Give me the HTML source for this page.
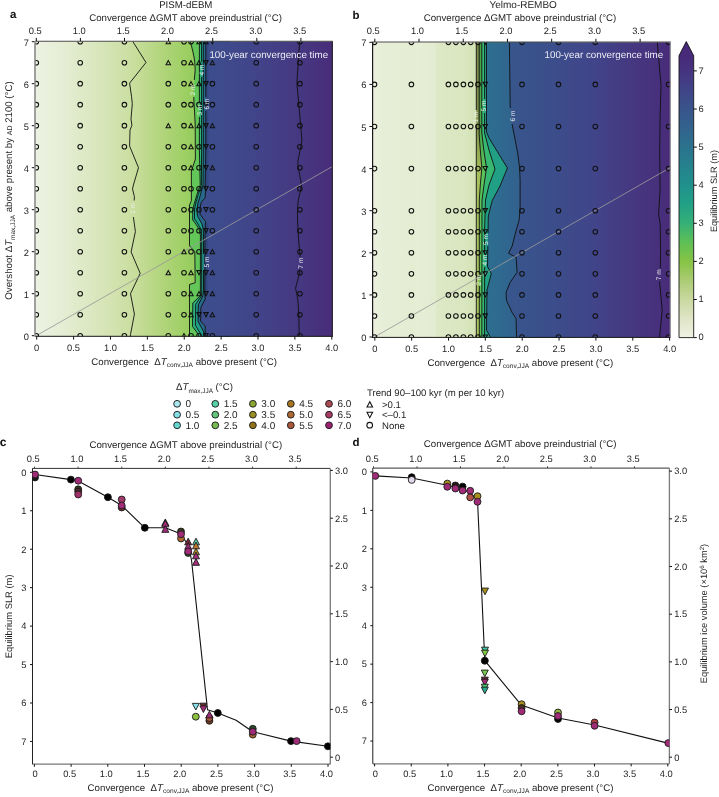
<!DOCTYPE html>
<html><head><meta charset="utf-8"><style>
html,body{margin:0;padding:0;background:#fff;}
svg{display:block;will-change:transform;}
text{font-family:"Liberation Sans", sans-serif;text-rendering:geometricPrecision;}
</style></head><body>
<svg width="719" height="797" viewBox="0 0 719 797">
<defs><linearGradient id="ga_light" gradientUnits="userSpaceOnUse" x1="35" y1="0" x2="200" y2="0">
<stop offset="0" stop-color="#edf2e3"/><stop offset="0.15" stop-color="#e6eed6"/><stop offset="0.33" stop-color="#dce8c2"/>
<stop offset="0.55" stop-color="#cde0a6"/><stop offset="0.62" stop-color="#c6dd99"/><stop offset="0.78" stop-color="#b0d47a"/>
<stop offset="0.92" stop-color="#9ccf62"/><stop offset="1" stop-color="#8fca58"/></linearGradient><linearGradient id="ga_dark" gradientUnits="userSpaceOnUse" x1="195" y1="0" x2="332.5" y2="0">
<stop offset="0" stop-color="#3c4e8d"/><stop offset="0.15" stop-color="#3d4c8c"/><stop offset="0.5" stop-color="#424288"/>
<stop offset="0.8" stop-color="#463680"/><stop offset="1" stop-color="#482c7a"/></linearGradient><linearGradient id="gb_light" gradientUnits="userSpaceOnUse" x1="372.6" y1="0" x2="477" y2="0">
<stop offset="0" stop-color="#ecf1df"/><stop offset="0.1" stop-color="#e7eed7"/><stop offset="0.4" stop-color="#e4edd2"/><stop offset="0.42" stop-color="#e6eed6"/><stop offset="0.6" stop-color="#e3ecd0"/><stop offset="0.62" stop-color="#dde8c6"/><stop offset="0.88" stop-color="#d9e6bf"/>
<stop offset="1" stop-color="#d3e2b4"/></linearGradient><linearGradient id="gb_12" gradientUnits="userSpaceOnUse" x1="0" y1="42" x2="0" y2="337">
<stop offset="0" stop-color="#7a8c46"/><stop offset="0.28" stop-color="#7e9048"/><stop offset="0.45" stop-color="#a6c05c"/><stop offset="1" stop-color="#a8c260"/></linearGradient><linearGradient id="gb_23" gradientUnits="userSpaceOnUse" x1="0" y1="42" x2="0" y2="337">
<stop offset="0" stop-color="#4aa448"/><stop offset="0.28" stop-color="#4aa84a"/><stop offset="0.45" stop-color="#5cc45a"/><stop offset="1" stop-color="#56c25c"/></linearGradient><linearGradient id="gb_56" gradientUnits="userSpaceOnUse" x1="486" y1="0" x2="522" y2="0">
<stop offset="0" stop-color="#2c6f90"/><stop offset="1" stop-color="#33608e"/></linearGradient><linearGradient id="gb_dark" gradientUnits="userSpaceOnUse" x1="505" y1="0" x2="670.6" y2="0">
<stop offset="0" stop-color="#37578c"/><stop offset="0.3" stop-color="#3c4d8b"/><stop offset="0.55" stop-color="#414489"/>
<stop offset="0.8" stop-color="#46367f"/><stop offset="0.93" stop-color="#47307c"/><stop offset="1" stop-color="#482a78"/></linearGradient><linearGradient id="gcb" gradientUnits="userSpaceOnUse" x1="0" y1="337.6" x2="0" y2="55.7"><stop offset="0.0000" stop-color="#eef1e2"/><stop offset="0.0676" stop-color="#dfe5c6"/><stop offset="0.1352" stop-color="#c9d8a0"/><stop offset="0.2027" stop-color="#abcb74"/><stop offset="0.2703" stop-color="#86c445"/><stop offset="0.3379" stop-color="#5ebf55"/><stop offset="0.4055" stop-color="#35b077"/><stop offset="0.4730" stop-color="#22a186"/><stop offset="0.5406" stop-color="#20918c"/><stop offset="0.6082" stop-color="#25828e"/><stop offset="0.6758" stop-color="#2b728e"/><stop offset="0.7433" stop-color="#32638d"/><stop offset="0.8109" stop-color="#39548c"/><stop offset="0.8785" stop-color="#404488"/><stop offset="0.9461" stop-color="#46337f"/><stop offset="1" stop-color="#482a7b"/></linearGradient><clipPath id="cpa"><rect x="35.0" y="41.6" width="297.5" height="294.79999999999995"/></clipPath><clipPath id="cpb"><rect x="372.6" y="42.3" width="298.0" height="295.09999999999997"/></clipPath></defs>
<g clip-path="url(#cpa)">
<rect x="30" y="30" width="310" height="320" fill="url(#ga_light)"/>
<polygon points="190.3,30 190.3,41.5 192.5,50 194,57 194.8,62.6 195.2,70.1 194.4,79.2 193.6,90 193.8,99 195.2,124 195.4,159 191.4,171 191.4,185 191.4,200.7 189.5,205 189.5,245.8 194.8,251.8 195.2,282.7 189.5,284.5 189.5,345 230,345 230,30" fill="#62c658"/>
<polygon points="199.4,30 199.4,150 200.2,185 197,194.4 194.2,203.8 192.7,210 192.7,220 195.8,224 199,229 200.4,235 200.4,290 200.3,295.8 192.8,303 192.5,326.5 198.3,334.3 199,345 230,345 230,30" fill="#2ab47c"/>
<polygon points="201.6,30 201.6,150 201.4,185 198.3,194.4 195.5,203.8 194.5,210 194.5,218.9 198,224 200.8,229 201.7,235 201.7,290 201.6,295.8 195.7,304.3 195.4,325.2 200.9,334.3 201.5,345 230,345 230,30" fill="#1f9c8a"/>
<polygon points="203.3,30 203.3,150 203,185 200.2,195.7 197.7,203.8 197,211.3 197.7,216.4 202,224 203.2,229 203.5,235 203.5,290 202.9,295.8 198.3,304.9 198,321.3 203.6,331.7 203.9,345 230,345 230,30" fill="#28688a"/>
<polygon points="205.8,30 205.8,150 205.2,185 205.5,191.3 205.2,197.5 201.1,202.6 199.9,208.8 200.2,214.5 205.5,221.4 205,235 204.8,290 205.2,299 200.9,307.6 200.6,321.3 205.2,325.8 205.2,345 340,345 340,30" fill="url(#ga_dark)"/>
<polyline points="207.2,30 207.2,187" fill="none" stroke="#30487f" stroke-width="2.4" opacity="0.85"/>
<polyline points="206.8,223 206.6,240 206.4,296" fill="none" stroke="#30487f" stroke-width="2.4" opacity="0.85"/>
<polyline points="132.8,30 132.8,41.5 146,62.5 129.6,83.2 131.5,96.3 132.3,103.8 131,118.9 131.9,125.4 130,130.1 129.6,146.1 138.5,167.7 133.4,185 132.5,188.9 134.4,196.7 134.2,200.5" fill="none" stroke="#111" stroke-width="0.9" stroke-linejoin="round"/>
<polyline points="133.4,217 135.4,231.6 131.1,252 140.2,273.3 130.5,293.7 134.4,314.1 130.5,334.5 130,345" fill="none" stroke="#111" stroke-width="0.9" stroke-linejoin="round"/>
<polyline points="299.8,30 299.8,41.5 298.8,52.5 298.2,62.6 296.9,83.3 298.8,104 300.7,125.3 301.9,140 300.8,146.8 297.9,161.3 298.2,167.9 299.7,174.5 301.4,185 300.8,189 298.2,200.8 297.5,210 297.5,220.5 298.2,231 298.6,240 299.2,245.5 299.7,251.8 300.2,257" fill="none" stroke="#111" stroke-width="0.9" stroke-linejoin="round"/>
<polyline points="299.9,269.5 299.7,273.2 298.2,278.4 295.5,288.3 296.8,293.6 298.2,303.4 298.8,314.6 299.2,335 299.2,345" fill="none" stroke="#111" stroke-width="0.9" stroke-linejoin="round"/>
<polyline points="190.3,30 190.3,41.5 192.5,50 194,57 194.8,62.6 195.2,70.1 194.4,79.2 194.34,80" fill="none" stroke="#111" stroke-width="0.9" stroke-linejoin="round"/><polyline points="193.76,97 193.8,99 195.2,124 195.4,159 191.4,171 191.4,185 191.4,200.7 189.5,205 189.5,245.8 194.8,251.8 195.2,282.7 189.5,284.5 189.5,345" fill="none" stroke="#111" stroke-width="0.9" stroke-linejoin="round"/>
<polyline points="199.4,30 199.4,102" fill="none" stroke="#111" stroke-width="0.9" stroke-linejoin="round"/><polyline points="199.4,117 199.4,150 200.2,185 197,194.4 194.2,203.8 192.7,210 192.7,220 195.8,224 199,229 200.4,235 200.4,290 200.3,295.8 192.8,303 192.5,326.5 198.3,334.3 199,345" fill="none" stroke="#111" stroke-width="0.9" stroke-linejoin="round"/>
<polyline points="201.6,30 201.6,62" fill="none" stroke="#111" stroke-width="0.9" stroke-linejoin="round"/><polyline points="201.6,77 201.6,150 201.4,185 198.3,194.4 195.5,203.8 194.5,210 194.5,218.9 198,224 200.8,229 201.7,235 201.7,290 201.6,295.8 195.7,304.3 195.4,325.2 200.9,334.3 201.5,345" fill="none" stroke="#111" stroke-width="0.9" stroke-linejoin="round"/>
<polyline points="203.3,30 203.3,150 203,185 200.2,195.7 197.7,203.8 197,211.3 197.7,216.4 202,224 203.2,229 203.5,235 203.5,254" fill="none" stroke="#111" stroke-width="0.9" stroke-linejoin="round"/><polyline points="203.5,270 203.5,290 202.9,295.8 198.3,304.9 198,321.3 203.6,331.7 203.9,345" fill="none" stroke="#111" stroke-width="0.9" stroke-linejoin="round"/>
<polyline points="205.8,30 205.8,97" fill="none" stroke="#111" stroke-width="0.9" stroke-linejoin="round"/><polyline points="205.8,111 205.8,150 205.2,185 205.5,191.3 205.2,197.5 201.1,202.6 199.9,208.8 200.2,214.5 205.5,221.4 205,235 204.8,290 205.2,299 200.9,307.6 200.6,321.3 205.2,325.8 205.2,345" fill="none" stroke="#111" stroke-width="0.9" stroke-linejoin="round"/>
<line x1="36.3" y1="335.7" x2="345.0" y2="159.29999999999998" stroke="#999" stroke-width="0.85"/>
</g>
<g clip-path="url(#cpb)">
<rect x="365" y="30" width="310" height="320" fill="url(#gb_light)"/>
<polygon points="476.3,30 476.3,345 560,345 560,30" fill="url(#gb_12)"/>
<polygon points="479.2,30 479.2,135 480.3,150 481.8,168 480.3,185 479.3,200 479.3,345 560,345 560,30" fill="url(#gb_23)"/>
<polygon points="481.8,30 481.8,133 483.8,150 486.5,168 484,185 482,200 481.8,345 560,345 560,30" fill="#38b972"/>
<polygon points="484.6,30 484.6,133 489,150 495,169 489,185 485.5,200 484.6,230 484.6,345 560,345 560,30" fill="#21a086"/>
<polygon points="486.5,30 486.5,132 489,138 507.4,168 500,186 492.2,200.6 488.3,216 487.5,266.7 491.3,273.5 487,290 486.5,330 490.3,337 490.3,345 560,345 560,30" fill="url(#gb_56)"/>
<polygon points="509.4,30 509.4,42 510.2,106 512.2,124.7 517.7,153 519.6,168 520.1,180 520.1,208.1 519.1,220.2 515.1,234.2 512.1,246.3 508.5,253.3 516.1,257.3 517.1,272.4 510.1,282.4 506.1,292.4 506.5,300.5 512.1,312.5 516.1,318.6 516.5,336.6 516.5,345 680,345 680,30" fill="url(#gb_dark)"/>
<polyline points="476.3,30 476.3,110" fill="none" stroke="#111" stroke-width="0.9" stroke-linejoin="round"/><polyline points="476.3,124 476.3,345" fill="none" stroke="#111" stroke-width="0.9" stroke-linejoin="round"/>
<polyline points="479.2,30 479.2,135 480.3,150 481.8,168 480.3,185 479.3,200 479.3,274" fill="none" stroke="#111" stroke-width="0.9" stroke-linejoin="round"/><polyline points="479.3,286 479.3,345" fill="none" stroke="#111" stroke-width="0.9" stroke-linejoin="round"/>
<polyline points="481.8,30 481.8,133 483.8,150 486.5,168 484,185 482,200 481.8,345" fill="none" stroke="#111" stroke-width="0.9" stroke-linejoin="round"/>
<polyline points="484.6,30 484.6,99" fill="none" stroke="#111" stroke-width="0.9" stroke-linejoin="round"/><polyline points="484.6,113 484.6,133 489,150 495,169 489,185 485.5,200 484.6,230 484.6,253" fill="none" stroke="#111" stroke-width="0.9" stroke-linejoin="round"/><polyline points="484.6,267 484.6,345" fill="none" stroke="#111" stroke-width="0.9" stroke-linejoin="round"/>
<polyline points="486.5,30 486.5,132 489,138 507.4,168 500,186 492.2,200.6 488.3,216 488.03,233" fill="none" stroke="#111" stroke-width="0.9" stroke-linejoin="round"/><polyline points="487.83,246 487.5,266.7 491.3,273.5 487,290 486.5,330 490.3,337 490.3,345" fill="none" stroke="#111" stroke-width="0.9" stroke-linejoin="round"/>
<polyline points="509.4,30 509.4,42 510.2,106 510.41,108" fill="none" stroke="#111" stroke-width="0.9" stroke-linejoin="round"/><polyline points="512.13,124 512.2,124.7 517.7,153 519.6,168 520.1,180 520.1,208.1 519.1,220.2 515.1,234.2 512.1,246.3 508.5,253.3 516.1,257.3 517.1,272.4 510.1,282.4 506.1,292.4 506.5,300.5 512.1,312.5 516.1,318.6 516.5,336.6 516.5,345" fill="none" stroke="#111" stroke-width="0.9" stroke-linejoin="round"/>
<polyline points="657.3,30 657.3,42 661,85.3 660.1,115.5 659.7,153 660.1,190 658.6,214.2 660.2,224 660.6,253.2 660.3,268.5" fill="none" stroke="#111" stroke-width="0.9" stroke-linejoin="round"/><polyline points="659.8,281 659.6,282.5 662.2,309.8 659.6,337 659.6,345" fill="none" stroke="#111" stroke-width="0.9" stroke-linejoin="round"/>
<line x1="374.5" y1="337.0" x2="683.2" y2="160.17999999999998" stroke="#999" stroke-width="0.85"/>
</g>
<g clip-path="url(#cpa)">
<circle cx="36.3" cy="41.7" r="2.3" fill="none" stroke="#111" stroke-width="1.05"/>
<circle cx="80.2" cy="41.7" r="2.3" fill="none" stroke="#111" stroke-width="1.05"/>
<circle cx="124.4" cy="41.7" r="2.3" fill="none" stroke="#111" stroke-width="1.05"/>
<polygon points="168.3,39.61 166.1,43.79 170.5,43.79" fill="none" stroke="#111" stroke-width="1.05" stroke-linejoin="miter"/>
<circle cx="184" cy="41.7" r="2.3" fill="none" stroke="#111" stroke-width="1.05"/>
<circle cx="191" cy="41.7" r="2.3" fill="none" stroke="#111" stroke-width="1.05"/>
<polygon points="199,39.61 196.8,43.79 201.2,43.79" fill="none" stroke="#111" stroke-width="1.05" stroke-linejoin="miter"/>
<polygon points="206,39.61 203.8,43.79 208.2,43.79" fill="none" stroke="#111" stroke-width="1.05" stroke-linejoin="miter"/>
<polygon points="212.4,43.79 210.2,39.61 214.6,39.61" fill="none" stroke="#111" stroke-width="1.05" stroke-linejoin="miter"/>
<circle cx="256.2" cy="41.7" r="2.3" fill="none" stroke="#111" stroke-width="1.05"/>
<circle cx="299.9" cy="41.7" r="2.3" fill="none" stroke="#111" stroke-width="1.05"/>
<circle cx="36.3" cy="62.7" r="2.3" fill="none" stroke="#111" stroke-width="1.05"/>
<circle cx="80.2" cy="62.7" r="2.3" fill="none" stroke="#111" stroke-width="1.05"/>
<circle cx="124.4" cy="62.7" r="2.3" fill="none" stroke="#111" stroke-width="1.05"/>
<polygon points="168.3,60.61 166.1,64.79 170.5,64.79" fill="none" stroke="#111" stroke-width="1.05" stroke-linejoin="miter"/>
<circle cx="184" cy="62.7" r="2.3" fill="none" stroke="#111" stroke-width="1.05"/>
<polygon points="191,60.61 188.8,64.79 193.2,64.79" fill="none" stroke="#111" stroke-width="1.05" stroke-linejoin="miter"/>
<polygon points="199,60.61 196.8,64.79 201.2,64.79" fill="none" stroke="#111" stroke-width="1.05" stroke-linejoin="miter"/>
<polygon points="206,64.79 203.8,60.61 208.2,60.61" fill="none" stroke="#111" stroke-width="1.05" stroke-linejoin="miter"/>
<polygon points="212.4,60.61 210.2,64.79 214.6,64.79" fill="none" stroke="#111" stroke-width="1.05" stroke-linejoin="miter"/>
<circle cx="256.2" cy="62.7" r="2.3" fill="none" stroke="#111" stroke-width="1.05"/>
<circle cx="299.9" cy="62.7" r="2.3" fill="none" stroke="#111" stroke-width="1.05"/>
<circle cx="36.3" cy="83.7" r="2.3" fill="none" stroke="#111" stroke-width="1.05"/>
<circle cx="80.2" cy="83.7" r="2.3" fill="none" stroke="#111" stroke-width="1.05"/>
<circle cx="124.4" cy="83.7" r="2.3" fill="none" stroke="#111" stroke-width="1.05"/>
<circle cx="168.3" cy="83.7" r="2.3" fill="none" stroke="#111" stroke-width="1.05"/>
<circle cx="184" cy="83.7" r="2.3" fill="none" stroke="#111" stroke-width="1.05"/>
<polygon points="191,81.61 188.8,85.79 193.2,85.79" fill="none" stroke="#111" stroke-width="1.05" stroke-linejoin="miter"/>
<polygon points="199,81.61 196.8,85.79 201.2,85.79" fill="none" stroke="#111" stroke-width="1.05" stroke-linejoin="miter"/>
<polygon points="206,85.79 203.8,81.61 208.2,81.61" fill="none" stroke="#111" stroke-width="1.05" stroke-linejoin="miter"/>
<circle cx="212.4" cy="83.7" r="2.3" fill="none" stroke="#111" stroke-width="1.05"/>
<circle cx="256.2" cy="83.7" r="2.3" fill="none" stroke="#111" stroke-width="1.05"/>
<circle cx="299.9" cy="83.7" r="2.3" fill="none" stroke="#111" stroke-width="1.05"/>
<circle cx="36.3" cy="104.7" r="2.3" fill="none" stroke="#111" stroke-width="1.05"/>
<circle cx="80.2" cy="104.7" r="2.3" fill="none" stroke="#111" stroke-width="1.05"/>
<circle cx="124.4" cy="104.7" r="2.3" fill="none" stroke="#111" stroke-width="1.05"/>
<circle cx="168.3" cy="104.7" r="2.3" fill="none" stroke="#111" stroke-width="1.05"/>
<circle cx="184" cy="104.7" r="2.3" fill="none" stroke="#111" stroke-width="1.05"/>
<circle cx="191" cy="104.7" r="2.3" fill="none" stroke="#111" stroke-width="1.05"/>
<circle cx="199" cy="104.7" r="2.3" fill="none" stroke="#111" stroke-width="1.05"/>
<polygon points="206,106.79 203.8,102.61 208.2,102.61" fill="none" stroke="#111" stroke-width="1.05" stroke-linejoin="miter"/>
<circle cx="212.4" cy="104.7" r="2.3" fill="none" stroke="#111" stroke-width="1.05"/>
<circle cx="256.2" cy="104.7" r="2.3" fill="none" stroke="#111" stroke-width="1.05"/>
<circle cx="299.9" cy="104.7" r="2.3" fill="none" stroke="#111" stroke-width="1.05"/>
<circle cx="36.3" cy="125.7" r="2.3" fill="none" stroke="#111" stroke-width="1.05"/>
<circle cx="80.2" cy="125.7" r="2.3" fill="none" stroke="#111" stroke-width="1.05"/>
<circle cx="124.4" cy="125.7" r="2.3" fill="none" stroke="#111" stroke-width="1.05"/>
<polygon points="168.3,123.61 166.1,127.79 170.5,127.79" fill="none" stroke="#111" stroke-width="1.05" stroke-linejoin="miter"/>
<circle cx="184" cy="125.7" r="2.3" fill="none" stroke="#111" stroke-width="1.05"/>
<polygon points="191,123.61 188.8,127.79 193.2,127.79" fill="none" stroke="#111" stroke-width="1.05" stroke-linejoin="miter"/>
<polygon points="199,123.61 196.8,127.79 201.2,127.79" fill="none" stroke="#111" stroke-width="1.05" stroke-linejoin="miter"/>
<polygon points="206,127.79 203.8,123.61 208.2,123.61" fill="none" stroke="#111" stroke-width="1.05" stroke-linejoin="miter"/>
<polygon points="212.4,123.61 210.2,127.79 214.6,127.79" fill="none" stroke="#111" stroke-width="1.05" stroke-linejoin="miter"/>
<circle cx="256.2" cy="125.7" r="2.3" fill="none" stroke="#111" stroke-width="1.05"/>
<circle cx="299.9" cy="125.7" r="2.3" fill="none" stroke="#111" stroke-width="1.05"/>
<circle cx="36.3" cy="146.7" r="2.3" fill="none" stroke="#111" stroke-width="1.05"/>
<circle cx="80.2" cy="146.7" r="2.3" fill="none" stroke="#111" stroke-width="1.05"/>
<circle cx="124.4" cy="146.7" r="2.3" fill="none" stroke="#111" stroke-width="1.05"/>
<circle cx="168.3" cy="146.7" r="2.3" fill="none" stroke="#111" stroke-width="1.05"/>
<circle cx="184" cy="146.7" r="2.3" fill="none" stroke="#111" stroke-width="1.05"/>
<polygon points="191,144.61 188.8,148.79 193.2,148.79" fill="none" stroke="#111" stroke-width="1.05" stroke-linejoin="miter"/>
<circle cx="199" cy="146.7" r="2.3" fill="none" stroke="#111" stroke-width="1.05"/>
<polygon points="206,148.79 203.8,144.61 208.2,144.61" fill="none" stroke="#111" stroke-width="1.05" stroke-linejoin="miter"/>
<circle cx="212.4" cy="146.7" r="2.3" fill="none" stroke="#111" stroke-width="1.05"/>
<circle cx="256.2" cy="146.7" r="2.3" fill="none" stroke="#111" stroke-width="1.05"/>
<circle cx="299.9" cy="146.7" r="2.3" fill="none" stroke="#111" stroke-width="1.05"/>
<circle cx="36.3" cy="167.7" r="2.3" fill="none" stroke="#111" stroke-width="1.05"/>
<circle cx="80.2" cy="167.7" r="2.3" fill="none" stroke="#111" stroke-width="1.05"/>
<circle cx="124.4" cy="167.7" r="2.3" fill="none" stroke="#111" stroke-width="1.05"/>
<circle cx="168.3" cy="167.7" r="2.3" fill="none" stroke="#111" stroke-width="1.05"/>
<circle cx="184" cy="167.7" r="2.3" fill="none" stroke="#111" stroke-width="1.05"/>
<polygon points="191,165.61 188.8,169.79 193.2,169.79" fill="none" stroke="#111" stroke-width="1.05" stroke-linejoin="miter"/>
<circle cx="199" cy="167.7" r="2.3" fill="none" stroke="#111" stroke-width="1.05"/>
<polygon points="206,169.79 203.8,165.61 208.2,165.61" fill="none" stroke="#111" stroke-width="1.05" stroke-linejoin="miter"/>
<polygon points="212.4,165.61 210.2,169.79 214.6,169.79" fill="none" stroke="#111" stroke-width="1.05" stroke-linejoin="miter"/>
<circle cx="256.2" cy="167.7" r="2.3" fill="none" stroke="#111" stroke-width="1.05"/>
<circle cx="299.9" cy="167.7" r="2.3" fill="none" stroke="#111" stroke-width="1.05"/>
<circle cx="36.3" cy="188.7" r="2.3" fill="none" stroke="#111" stroke-width="1.05"/>
<circle cx="80.2" cy="188.7" r="2.3" fill="none" stroke="#111" stroke-width="1.05"/>
<circle cx="124.4" cy="188.7" r="2.3" fill="none" stroke="#111" stroke-width="1.05"/>
<circle cx="168.3" cy="188.7" r="2.3" fill="none" stroke="#111" stroke-width="1.05"/>
<circle cx="184" cy="188.7" r="2.3" fill="none" stroke="#111" stroke-width="1.05"/>
<circle cx="191" cy="188.7" r="2.3" fill="none" stroke="#111" stroke-width="1.05"/>
<circle cx="199" cy="188.7" r="2.3" fill="none" stroke="#111" stroke-width="1.05"/>
<polygon points="206,190.79 203.8,186.61 208.2,186.61" fill="none" stroke="#111" stroke-width="1.05" stroke-linejoin="miter"/>
<circle cx="212.4" cy="188.7" r="2.3" fill="none" stroke="#111" stroke-width="1.05"/>
<circle cx="256.2" cy="188.7" r="2.3" fill="none" stroke="#111" stroke-width="1.05"/>
<circle cx="299.9" cy="188.7" r="2.3" fill="none" stroke="#111" stroke-width="1.05"/>
<circle cx="36.3" cy="209.7" r="2.3" fill="none" stroke="#111" stroke-width="1.05"/>
<circle cx="80.2" cy="209.7" r="2.3" fill="none" stroke="#111" stroke-width="1.05"/>
<circle cx="124.4" cy="209.7" r="2.3" fill="none" stroke="#111" stroke-width="1.05"/>
<circle cx="168.3" cy="209.7" r="2.3" fill="none" stroke="#111" stroke-width="1.05"/>
<circle cx="184" cy="209.7" r="2.3" fill="none" stroke="#111" stroke-width="1.05"/>
<circle cx="191" cy="209.7" r="2.3" fill="none" stroke="#111" stroke-width="1.05"/>
<circle cx="199" cy="209.7" r="2.3" fill="none" stroke="#111" stroke-width="1.05"/>
<polygon points="206,211.79 203.8,207.61 208.2,207.61" fill="none" stroke="#111" stroke-width="1.05" stroke-linejoin="miter"/>
<circle cx="212.4" cy="209.7" r="2.3" fill="none" stroke="#111" stroke-width="1.05"/>
<circle cx="256.2" cy="209.7" r="2.3" fill="none" stroke="#111" stroke-width="1.05"/>
<circle cx="299.9" cy="209.7" r="2.3" fill="none" stroke="#111" stroke-width="1.05"/>
<circle cx="36.3" cy="230.7" r="2.3" fill="none" stroke="#111" stroke-width="1.05"/>
<circle cx="80.2" cy="230.7" r="2.3" fill="none" stroke="#111" stroke-width="1.05"/>
<circle cx="124.4" cy="230.7" r="2.3" fill="none" stroke="#111" stroke-width="1.05"/>
<circle cx="168.3" cy="230.7" r="2.3" fill="none" stroke="#111" stroke-width="1.05"/>
<circle cx="184" cy="230.7" r="2.3" fill="none" stroke="#111" stroke-width="1.05"/>
<circle cx="191" cy="230.7" r="2.3" fill="none" stroke="#111" stroke-width="1.05"/>
<circle cx="199" cy="230.7" r="2.3" fill="none" stroke="#111" stroke-width="1.05"/>
<polygon points="206,232.79 203.8,228.61 208.2,228.61" fill="none" stroke="#111" stroke-width="1.05" stroke-linejoin="miter"/>
<circle cx="212.4" cy="230.7" r="2.3" fill="none" stroke="#111" stroke-width="1.05"/>
<circle cx="256.2" cy="230.7" r="2.3" fill="none" stroke="#111" stroke-width="1.05"/>
<circle cx="299.9" cy="230.7" r="2.3" fill="none" stroke="#111" stroke-width="1.05"/>
<circle cx="36.3" cy="251.7" r="2.3" fill="none" stroke="#111" stroke-width="1.05"/>
<circle cx="80.2" cy="251.7" r="2.3" fill="none" stroke="#111" stroke-width="1.05"/>
<circle cx="124.4" cy="251.7" r="2.3" fill="none" stroke="#111" stroke-width="1.05"/>
<circle cx="168.3" cy="251.7" r="2.3" fill="none" stroke="#111" stroke-width="1.05"/>
<polygon points="184,249.61 181.8,253.79 186.2,253.79" fill="none" stroke="#111" stroke-width="1.05" stroke-linejoin="miter"/>
<circle cx="191" cy="251.7" r="2.3" fill="none" stroke="#111" stroke-width="1.05"/>
<circle cx="199" cy="251.7" r="2.3" fill="none" stroke="#111" stroke-width="1.05"/>
<polygon points="206,253.79 203.8,249.61 208.2,249.61" fill="none" stroke="#111" stroke-width="1.05" stroke-linejoin="miter"/>
<polygon points="212.4,249.61 210.2,253.79 214.6,253.79" fill="none" stroke="#111" stroke-width="1.05" stroke-linejoin="miter"/>
<circle cx="256.2" cy="251.7" r="2.3" fill="none" stroke="#111" stroke-width="1.05"/>
<circle cx="299.9" cy="251.7" r="2.3" fill="none" stroke="#111" stroke-width="1.05"/>
<circle cx="36.3" cy="272.7" r="2.3" fill="none" stroke="#111" stroke-width="1.05"/>
<circle cx="80.2" cy="272.7" r="2.3" fill="none" stroke="#111" stroke-width="1.05"/>
<circle cx="124.4" cy="272.7" r="2.3" fill="none" stroke="#111" stroke-width="1.05"/>
<polygon points="168.3,270.61 166.1,274.79 170.5,274.79" fill="none" stroke="#111" stroke-width="1.05" stroke-linejoin="miter"/>
<circle cx="184" cy="272.7" r="2.3" fill="none" stroke="#111" stroke-width="1.05"/>
<polygon points="191,270.61 188.8,274.79 193.2,274.79" fill="none" stroke="#111" stroke-width="1.05" stroke-linejoin="miter"/>
<polygon points="199,274.79 196.8,270.61 201.2,270.61" fill="none" stroke="#111" stroke-width="1.05" stroke-linejoin="miter"/>
<polygon points="206,274.79 203.8,270.61 208.2,270.61" fill="none" stroke="#111" stroke-width="1.05" stroke-linejoin="miter"/>
<polygon points="212.4,270.61 210.2,274.79 214.6,274.79" fill="none" stroke="#111" stroke-width="1.05" stroke-linejoin="miter"/>
<circle cx="256.2" cy="272.7" r="2.3" fill="none" stroke="#111" stroke-width="1.05"/>
<circle cx="299.9" cy="272.7" r="2.3" fill="none" stroke="#111" stroke-width="1.05"/>
<circle cx="36.3" cy="293.7" r="2.3" fill="none" stroke="#111" stroke-width="1.05"/>
<circle cx="80.2" cy="293.7" r="2.3" fill="none" stroke="#111" stroke-width="1.05"/>
<circle cx="124.4" cy="293.7" r="2.3" fill="none" stroke="#111" stroke-width="1.05"/>
<circle cx="168.3" cy="293.7" r="2.3" fill="none" stroke="#111" stroke-width="1.05"/>
<circle cx="184" cy="293.7" r="2.3" fill="none" stroke="#111" stroke-width="1.05"/>
<polygon points="191,291.61 188.8,295.79 193.2,295.79" fill="none" stroke="#111" stroke-width="1.05" stroke-linejoin="miter"/>
<polygon points="199,291.61 196.8,295.79 201.2,295.79" fill="none" stroke="#111" stroke-width="1.05" stroke-linejoin="miter"/>
<polygon points="206,295.79 203.8,291.61 208.2,291.61" fill="none" stroke="#111" stroke-width="1.05" stroke-linejoin="miter"/>
<polygon points="212.4,291.61 210.2,295.79 214.6,295.79" fill="none" stroke="#111" stroke-width="1.05" stroke-linejoin="miter"/>
<circle cx="256.2" cy="293.7" r="2.3" fill="none" stroke="#111" stroke-width="1.05"/>
<circle cx="299.9" cy="293.7" r="2.3" fill="none" stroke="#111" stroke-width="1.05"/>
<circle cx="36.3" cy="314.7" r="2.3" fill="none" stroke="#111" stroke-width="1.05"/>
<circle cx="80.2" cy="314.7" r="2.3" fill="none" stroke="#111" stroke-width="1.05"/>
<circle cx="124.4" cy="314.7" r="2.3" fill="none" stroke="#111" stroke-width="1.05"/>
<circle cx="168.3" cy="314.7" r="2.3" fill="none" stroke="#111" stroke-width="1.05"/>
<circle cx="184" cy="314.7" r="2.3" fill="none" stroke="#111" stroke-width="1.05"/>
<polygon points="191,312.61 188.8,316.79 193.2,316.79" fill="none" stroke="#111" stroke-width="1.05" stroke-linejoin="miter"/>
<polygon points="199,316.79 196.8,312.61 201.2,312.61" fill="none" stroke="#111" stroke-width="1.05" stroke-linejoin="miter"/>
<polygon points="206,316.79 203.8,312.61 208.2,312.61" fill="none" stroke="#111" stroke-width="1.05" stroke-linejoin="miter"/>
<polygon points="212.4,312.61 210.2,316.79 214.6,316.79" fill="none" stroke="#111" stroke-width="1.05" stroke-linejoin="miter"/>
<circle cx="256.2" cy="314.7" r="2.3" fill="none" stroke="#111" stroke-width="1.05"/>
<circle cx="299.9" cy="314.7" r="2.3" fill="none" stroke="#111" stroke-width="1.05"/>
<circle cx="36.3" cy="335.7" r="2.3" fill="none" stroke="#111" stroke-width="1.05"/>
<circle cx="80.2" cy="335.7" r="2.3" fill="none" stroke="#111" stroke-width="1.05"/>
<circle cx="124.4" cy="335.7" r="2.3" fill="none" stroke="#111" stroke-width="1.05"/>
<circle cx="168.3" cy="335.7" r="2.3" fill="none" stroke="#111" stroke-width="1.05"/>
<polygon points="184,333.61 181.8,337.79 186.2,337.79" fill="none" stroke="#111" stroke-width="1.05" stroke-linejoin="miter"/>
<circle cx="191" cy="335.7" r="2.3" fill="none" stroke="#111" stroke-width="1.05"/>
<circle cx="199" cy="335.7" r="2.3" fill="none" stroke="#111" stroke-width="1.05"/>
<polygon points="206,337.79 203.8,333.61 208.2,333.61" fill="none" stroke="#111" stroke-width="1.05" stroke-linejoin="miter"/>
<circle cx="212.4" cy="335.7" r="2.3" fill="none" stroke="#111" stroke-width="1.05"/>
<circle cx="256.2" cy="335.7" r="2.3" fill="none" stroke="#111" stroke-width="1.05"/>
<circle cx="299.9" cy="335.7" r="2.3" fill="none" stroke="#111" stroke-width="1.05"/>
</g>
<g clip-path="url(#cpb)">
<circle cx="374.5" cy="42.3" r="2.3" fill="none" stroke="#111" stroke-width="1.05"/>
<circle cx="411.4" cy="42.3" r="2.3" fill="none" stroke="#111" stroke-width="1.05"/>
<circle cx="448.4" cy="42.3" r="2.3" fill="none" stroke="#111" stroke-width="1.05"/>
<circle cx="455.9" cy="42.3" r="2.3" fill="none" stroke="#111" stroke-width="1.05"/>
<circle cx="463.4" cy="42.3" r="2.3" fill="none" stroke="#111" stroke-width="1.05"/>
<circle cx="470.7" cy="42.3" r="2.3" fill="none" stroke="#111" stroke-width="1.05"/>
<circle cx="478" cy="42.3" r="2.3" fill="none" stroke="#111" stroke-width="1.05"/>
<polygon points="485.3,44.39 483.1,40.21 487.5,40.21" fill="none" stroke="#111" stroke-width="1.05" stroke-linejoin="miter"/>
<circle cx="522" cy="42.3" r="2.3" fill="none" stroke="#111" stroke-width="1.05"/>
<circle cx="558.5" cy="42.3" r="2.3" fill="none" stroke="#111" stroke-width="1.05"/>
<circle cx="595.3" cy="42.3" r="2.3" fill="none" stroke="#111" stroke-width="1.05"/>
<circle cx="668.6" cy="42.3" r="2.3" fill="none" stroke="#111" stroke-width="1.05"/>
<circle cx="374.5" cy="84.4" r="2.3" fill="none" stroke="#111" stroke-width="1.05"/>
<circle cx="411.4" cy="84.4" r="2.3" fill="none" stroke="#111" stroke-width="1.05"/>
<circle cx="448.4" cy="84.4" r="2.3" fill="none" stroke="#111" stroke-width="1.05"/>
<circle cx="455.9" cy="84.4" r="2.3" fill="none" stroke="#111" stroke-width="1.05"/>
<circle cx="463.4" cy="84.4" r="2.3" fill="none" stroke="#111" stroke-width="1.05"/>
<circle cx="470.7" cy="84.4" r="2.3" fill="none" stroke="#111" stroke-width="1.05"/>
<circle cx="478" cy="84.4" r="2.3" fill="none" stroke="#111" stroke-width="1.05"/>
<polygon points="485.3,86.49 483.1,82.31 487.5,82.31" fill="none" stroke="#111" stroke-width="1.05" stroke-linejoin="miter"/>
<circle cx="522" cy="84.4" r="2.3" fill="none" stroke="#111" stroke-width="1.05"/>
<circle cx="558.5" cy="84.4" r="2.3" fill="none" stroke="#111" stroke-width="1.05"/>
<circle cx="595.3" cy="84.4" r="2.3" fill="none" stroke="#111" stroke-width="1.05"/>
<circle cx="668.6" cy="84.4" r="2.3" fill="none" stroke="#111" stroke-width="1.05"/>
<circle cx="374.5" cy="126.5" r="2.3" fill="none" stroke="#111" stroke-width="1.05"/>
<circle cx="411.4" cy="126.5" r="2.3" fill="none" stroke="#111" stroke-width="1.05"/>
<circle cx="448.4" cy="126.5" r="2.3" fill="none" stroke="#111" stroke-width="1.05"/>
<circle cx="455.9" cy="126.5" r="2.3" fill="none" stroke="#111" stroke-width="1.05"/>
<circle cx="463.4" cy="126.5" r="2.3" fill="none" stroke="#111" stroke-width="1.05"/>
<circle cx="470.7" cy="126.5" r="2.3" fill="none" stroke="#111" stroke-width="1.05"/>
<circle cx="478" cy="126.5" r="2.3" fill="none" stroke="#111" stroke-width="1.05"/>
<polygon points="485.3,128.59 483.1,124.41 487.5,124.41" fill="none" stroke="#111" stroke-width="1.05" stroke-linejoin="miter"/>
<circle cx="522" cy="126.5" r="2.3" fill="none" stroke="#111" stroke-width="1.05"/>
<circle cx="558.5" cy="126.5" r="2.3" fill="none" stroke="#111" stroke-width="1.05"/>
<circle cx="595.3" cy="126.5" r="2.3" fill="none" stroke="#111" stroke-width="1.05"/>
<circle cx="668.6" cy="126.5" r="2.3" fill="none" stroke="#111" stroke-width="1.05"/>
<circle cx="374.5" cy="168.6" r="2.3" fill="none" stroke="#111" stroke-width="1.05"/>
<circle cx="411.4" cy="168.6" r="2.3" fill="none" stroke="#111" stroke-width="1.05"/>
<circle cx="448.4" cy="168.6" r="2.3" fill="none" stroke="#111" stroke-width="1.05"/>
<circle cx="455.9" cy="168.6" r="2.3" fill="none" stroke="#111" stroke-width="1.05"/>
<circle cx="463.4" cy="168.6" r="2.3" fill="none" stroke="#111" stroke-width="1.05"/>
<circle cx="470.7" cy="168.6" r="2.3" fill="none" stroke="#111" stroke-width="1.05"/>
<circle cx="478" cy="168.6" r="2.3" fill="none" stroke="#111" stroke-width="1.05"/>
<polygon points="485.3,170.69 483.1,166.51 487.5,166.51" fill="none" stroke="#111" stroke-width="1.05" stroke-linejoin="miter"/>
<circle cx="522" cy="168.6" r="2.3" fill="none" stroke="#111" stroke-width="1.05"/>
<circle cx="558.5" cy="168.6" r="2.3" fill="none" stroke="#111" stroke-width="1.05"/>
<circle cx="595.3" cy="168.6" r="2.3" fill="none" stroke="#111" stroke-width="1.05"/>
<circle cx="668.6" cy="168.6" r="2.3" fill="none" stroke="#111" stroke-width="1.05"/>
<circle cx="374.5" cy="210.7" r="2.3" fill="none" stroke="#111" stroke-width="1.05"/>
<circle cx="411.4" cy="210.7" r="2.3" fill="none" stroke="#111" stroke-width="1.05"/>
<circle cx="448.4" cy="210.7" r="2.3" fill="none" stroke="#111" stroke-width="1.05"/>
<circle cx="455.9" cy="210.7" r="2.3" fill="none" stroke="#111" stroke-width="1.05"/>
<circle cx="463.4" cy="210.7" r="2.3" fill="none" stroke="#111" stroke-width="1.05"/>
<circle cx="470.7" cy="210.7" r="2.3" fill="none" stroke="#111" stroke-width="1.05"/>
<circle cx="478" cy="210.7" r="2.3" fill="none" stroke="#111" stroke-width="1.05"/>
<polygon points="485.3,212.79 483.1,208.61 487.5,208.61" fill="none" stroke="#111" stroke-width="1.05" stroke-linejoin="miter"/>
<circle cx="522" cy="210.7" r="2.3" fill="none" stroke="#111" stroke-width="1.05"/>
<circle cx="558.5" cy="210.7" r="2.3" fill="none" stroke="#111" stroke-width="1.05"/>
<circle cx="595.3" cy="210.7" r="2.3" fill="none" stroke="#111" stroke-width="1.05"/>
<circle cx="668.6" cy="210.7" r="2.3" fill="none" stroke="#111" stroke-width="1.05"/>
<circle cx="374.5" cy="231.75" r="2.3" fill="none" stroke="#111" stroke-width="1.05"/>
<circle cx="411.4" cy="231.75" r="2.3" fill="none" stroke="#111" stroke-width="1.05"/>
<circle cx="448.4" cy="231.75" r="2.3" fill="none" stroke="#111" stroke-width="1.05"/>
<circle cx="455.9" cy="231.75" r="2.3" fill="none" stroke="#111" stroke-width="1.05"/>
<circle cx="463.4" cy="231.75" r="2.3" fill="none" stroke="#111" stroke-width="1.05"/>
<circle cx="470.7" cy="231.75" r="2.3" fill="none" stroke="#111" stroke-width="1.05"/>
<circle cx="478" cy="231.75" r="2.3" fill="none" stroke="#111" stroke-width="1.05"/>
<polygon points="485.3,233.84 483.1,229.66 487.5,229.66" fill="none" stroke="#111" stroke-width="1.05" stroke-linejoin="miter"/>
<circle cx="522" cy="231.75" r="2.3" fill="none" stroke="#111" stroke-width="1.05"/>
<circle cx="558.5" cy="231.75" r="2.3" fill="none" stroke="#111" stroke-width="1.05"/>
<circle cx="595.3" cy="231.75" r="2.3" fill="none" stroke="#111" stroke-width="1.05"/>
<circle cx="668.6" cy="231.75" r="2.3" fill="none" stroke="#111" stroke-width="1.05"/>
<circle cx="374.5" cy="252.8" r="2.3" fill="none" stroke="#111" stroke-width="1.05"/>
<circle cx="411.4" cy="252.8" r="2.3" fill="none" stroke="#111" stroke-width="1.05"/>
<circle cx="448.4" cy="252.8" r="2.3" fill="none" stroke="#111" stroke-width="1.05"/>
<circle cx="455.9" cy="252.8" r="2.3" fill="none" stroke="#111" stroke-width="1.05"/>
<circle cx="463.4" cy="252.8" r="2.3" fill="none" stroke="#111" stroke-width="1.05"/>
<circle cx="470.7" cy="252.8" r="2.3" fill="none" stroke="#111" stroke-width="1.05"/>
<circle cx="478" cy="252.8" r="2.3" fill="none" stroke="#111" stroke-width="1.05"/>
<polygon points="485.3,254.89 483.1,250.71 487.5,250.71" fill="none" stroke="#111" stroke-width="1.05" stroke-linejoin="miter"/>
<circle cx="522" cy="252.8" r="2.3" fill="none" stroke="#111" stroke-width="1.05"/>
<circle cx="558.5" cy="252.8" r="2.3" fill="none" stroke="#111" stroke-width="1.05"/>
<circle cx="595.3" cy="252.8" r="2.3" fill="none" stroke="#111" stroke-width="1.05"/>
<circle cx="668.6" cy="252.8" r="2.3" fill="none" stroke="#111" stroke-width="1.05"/>
<circle cx="374.5" cy="273.85" r="2.3" fill="none" stroke="#111" stroke-width="1.05"/>
<circle cx="411.4" cy="273.85" r="2.3" fill="none" stroke="#111" stroke-width="1.05"/>
<circle cx="448.4" cy="273.85" r="2.3" fill="none" stroke="#111" stroke-width="1.05"/>
<circle cx="455.9" cy="273.85" r="2.3" fill="none" stroke="#111" stroke-width="1.05"/>
<circle cx="463.4" cy="273.85" r="2.3" fill="none" stroke="#111" stroke-width="1.05"/>
<circle cx="470.7" cy="273.85" r="2.3" fill="none" stroke="#111" stroke-width="1.05"/>
<circle cx="478" cy="273.85" r="2.3" fill="none" stroke="#111" stroke-width="1.05"/>
<polygon points="485.3,275.94 483.1,271.76 487.5,271.76" fill="none" stroke="#111" stroke-width="1.05" stroke-linejoin="miter"/>
<circle cx="522" cy="273.85" r="2.3" fill="none" stroke="#111" stroke-width="1.05"/>
<circle cx="558.5" cy="273.85" r="2.3" fill="none" stroke="#111" stroke-width="1.05"/>
<circle cx="595.3" cy="273.85" r="2.3" fill="none" stroke="#111" stroke-width="1.05"/>
<circle cx="668.6" cy="273.85" r="2.3" fill="none" stroke="#111" stroke-width="1.05"/>
<circle cx="374.5" cy="294.9" r="2.3" fill="none" stroke="#111" stroke-width="1.05"/>
<circle cx="411.4" cy="294.9" r="2.3" fill="none" stroke="#111" stroke-width="1.05"/>
<circle cx="448.4" cy="294.9" r="2.3" fill="none" stroke="#111" stroke-width="1.05"/>
<circle cx="455.9" cy="294.9" r="2.3" fill="none" stroke="#111" stroke-width="1.05"/>
<circle cx="463.4" cy="294.9" r="2.3" fill="none" stroke="#111" stroke-width="1.05"/>
<circle cx="470.7" cy="294.9" r="2.3" fill="none" stroke="#111" stroke-width="1.05"/>
<circle cx="478" cy="294.9" r="2.3" fill="none" stroke="#111" stroke-width="1.05"/>
<polygon points="485.3,296.99 483.1,292.81 487.5,292.81" fill="none" stroke="#111" stroke-width="1.05" stroke-linejoin="miter"/>
<circle cx="522" cy="294.9" r="2.3" fill="none" stroke="#111" stroke-width="1.05"/>
<circle cx="558.5" cy="294.9" r="2.3" fill="none" stroke="#111" stroke-width="1.05"/>
<circle cx="595.3" cy="294.9" r="2.3" fill="none" stroke="#111" stroke-width="1.05"/>
<circle cx="668.6" cy="294.9" r="2.3" fill="none" stroke="#111" stroke-width="1.05"/>
<circle cx="374.5" cy="315.95" r="2.3" fill="none" stroke="#111" stroke-width="1.05"/>
<circle cx="411.4" cy="315.95" r="2.3" fill="none" stroke="#111" stroke-width="1.05"/>
<circle cx="448.4" cy="315.95" r="2.3" fill="none" stroke="#111" stroke-width="1.05"/>
<circle cx="455.9" cy="315.95" r="2.3" fill="none" stroke="#111" stroke-width="1.05"/>
<circle cx="463.4" cy="315.95" r="2.3" fill="none" stroke="#111" stroke-width="1.05"/>
<circle cx="470.7" cy="315.95" r="2.3" fill="none" stroke="#111" stroke-width="1.05"/>
<circle cx="478" cy="315.95" r="2.3" fill="none" stroke="#111" stroke-width="1.05"/>
<polygon points="485.3,318.04 483.1,313.86 487.5,313.86" fill="none" stroke="#111" stroke-width="1.05" stroke-linejoin="miter"/>
<circle cx="522" cy="315.95" r="2.3" fill="none" stroke="#111" stroke-width="1.05"/>
<circle cx="558.5" cy="315.95" r="2.3" fill="none" stroke="#111" stroke-width="1.05"/>
<circle cx="595.3" cy="315.95" r="2.3" fill="none" stroke="#111" stroke-width="1.05"/>
<circle cx="668.6" cy="315.95" r="2.3" fill="none" stroke="#111" stroke-width="1.05"/>
<circle cx="374.5" cy="337" r="2.3" fill="none" stroke="#111" stroke-width="1.05"/>
<circle cx="411.4" cy="337" r="2.3" fill="none" stroke="#111" stroke-width="1.05"/>
<circle cx="448.4" cy="337" r="2.3" fill="none" stroke="#111" stroke-width="1.05"/>
<circle cx="455.9" cy="337" r="2.3" fill="none" stroke="#111" stroke-width="1.05"/>
<circle cx="463.4" cy="337" r="2.3" fill="none" stroke="#111" stroke-width="1.05"/>
<circle cx="470.7" cy="337" r="2.3" fill="none" stroke="#111" stroke-width="1.05"/>
<circle cx="478" cy="337" r="2.3" fill="none" stroke="#111" stroke-width="1.05"/>
<polygon points="485.3,339.09 483.1,334.91 487.5,334.91" fill="none" stroke="#111" stroke-width="1.05" stroke-linejoin="miter"/>
<circle cx="522" cy="337" r="2.3" fill="none" stroke="#111" stroke-width="1.05"/>
<circle cx="558.5" cy="337" r="2.3" fill="none" stroke="#111" stroke-width="1.05"/>
<circle cx="595.3" cy="337" r="2.3" fill="none" stroke="#111" stroke-width="1.05"/>
<circle cx="668.6" cy="337" r="2.3" fill="none" stroke="#111" stroke-width="1.05"/>
</g>
<text x="209.4" y="58.4" font-size="9.8" text-anchor="start" fill="#ececf4">100-year convergence time</text>
<text x="544.5" y="58.4" font-size="9.8" text-anchor="start" fill="#ececf4">100-year convergence time</text>
<text x="135.3" y="208.5" font-size="6.6" text-anchor="middle" fill="#eeeeee" transform="rotate(-90 135.3 208.5)">1 m</text>
<text x="195.4" y="90" font-size="6.6" text-anchor="middle" fill="#eeeeee" transform="rotate(-90 195.4 90)">2 m</text>
<text x="204" y="70" font-size="6.6" text-anchor="middle" fill="#eeeeee" transform="rotate(-90 204 70)">4 m</text>
<text x="202" y="110" font-size="6.6" text-anchor="middle" fill="#eeeeee" transform="rotate(-90 202 110)">3 m</text>
<text x="209" y="104" font-size="6.6" text-anchor="middle" fill="#eeeeee" transform="rotate(-90 209 104)">6 m</text>
<text x="208.5" y="262" font-size="6.6" text-anchor="middle" fill="#eeeeee" transform="rotate(-90 208.5 262)">5 m</text>
<text x="303.4" y="263.3" font-size="6.6" text-anchor="middle" fill="#eeeeee" transform="rotate(-90 303.4 263.3)">7 m</text>
<text x="477.6" y="117" font-size="6.6" text-anchor="middle" fill="#eeeeee" transform="rotate(-90 477.6 117)">1 m</text>
<text x="485.6" y="106" font-size="6.6" text-anchor="middle" fill="#eeeeee" transform="rotate(-90 485.6 106)">5 m</text>
<text x="514.8" y="116" font-size="6.6" text-anchor="middle" fill="#eeeeee" transform="rotate(-90 514.8 116)">6 m</text>
<text x="487.7" y="239.5" font-size="6.6" text-anchor="middle" fill="#eeeeee" transform="rotate(-90 487.7 239.5)">5 m</text>
<text x="487.2" y="260" font-size="6.6" text-anchor="middle" fill="#eeeeee" transform="rotate(-90 487.2 260)">4 m</text>
<text x="481.2" y="280" font-size="6.6" text-anchor="middle" fill="#eeeeee" transform="rotate(-90 481.2 280)">2 m</text>
<text x="660.8" y="274.7" font-size="6.6" text-anchor="middle" fill="#eeeeee" transform="rotate(-90 660.8 274.7)">7 m</text>
<line x1="35" y1="41.2" x2="332.6" y2="41.2" stroke="#4a4a4a" stroke-width="1.1"/>
<line x1="35" y1="336.3" x2="332.6" y2="336.3" stroke="#1a1a1a" stroke-width="1"/>
<line x1="332.3" y1="41.2" x2="332.3" y2="336.8" stroke="#1a1a1a" stroke-width="1"/>
<line x1="35" y1="41" x2="35" y2="336.8" stroke="#8a8a8a" stroke-width="1.6"/>
<line x1="31.8" y1="335.7" x2="34.2" y2="335.7" stroke="#111" stroke-width="1"/>
<text x="28.8" y="339.7" font-size="9.3" text-anchor="end" fill="#1e1e1e">0</text>
<line x1="31.8" y1="293.7" x2="34.2" y2="293.7" stroke="#111" stroke-width="1"/>
<text x="28.8" y="297.7" font-size="9.3" text-anchor="end" fill="#1e1e1e">1</text>
<line x1="31.8" y1="251.7" x2="34.2" y2="251.7" stroke="#111" stroke-width="1"/>
<text x="28.8" y="255.7" font-size="9.3" text-anchor="end" fill="#1e1e1e">2</text>
<line x1="31.8" y1="209.7" x2="34.2" y2="209.7" stroke="#111" stroke-width="1"/>
<text x="28.8" y="213.7" font-size="9.3" text-anchor="end" fill="#1e1e1e">3</text>
<line x1="31.8" y1="167.7" x2="34.2" y2="167.7" stroke="#111" stroke-width="1"/>
<text x="28.8" y="171.7" font-size="9.3" text-anchor="end" fill="#1e1e1e">4</text>
<line x1="31.8" y1="125.7" x2="34.2" y2="125.7" stroke="#111" stroke-width="1"/>
<text x="28.8" y="129.7" font-size="9.3" text-anchor="end" fill="#1e1e1e">5</text>
<line x1="31.8" y1="83.7" x2="34.2" y2="83.7" stroke="#111" stroke-width="1"/>
<text x="28.8" y="87.7" font-size="9.3" text-anchor="end" fill="#1e1e1e">6</text>
<line x1="31.8" y1="41.7" x2="34.2" y2="41.7" stroke="#111" stroke-width="1"/>
<text x="28.8" y="45.7" font-size="9.3" text-anchor="end" fill="#1e1e1e">7</text>
<line x1="36.7" y1="336.3" x2="36.7" y2="339.6" stroke="#111" stroke-width="1"/>
<text x="36.7" y="351" font-size="9.3" text-anchor="middle" fill="#1e1e1e">0</text>
<line x1="73.59" y1="336.3" x2="73.59" y2="339.6" stroke="#111" stroke-width="1"/>
<text x="73.59" y="351" font-size="9.3" text-anchor="middle" fill="#1e1e1e">0.5</text>
<line x1="110.47" y1="336.3" x2="110.47" y2="339.6" stroke="#111" stroke-width="1"/>
<text x="110.47" y="351" font-size="9.3" text-anchor="middle" fill="#1e1e1e">1.0</text>
<line x1="147.36" y1="336.3" x2="147.36" y2="339.6" stroke="#111" stroke-width="1"/>
<text x="147.36" y="351" font-size="9.3" text-anchor="middle" fill="#1e1e1e">1.5</text>
<line x1="184.24" y1="336.3" x2="184.24" y2="339.6" stroke="#111" stroke-width="1"/>
<text x="184.24" y="351" font-size="9.3" text-anchor="middle" fill="#1e1e1e">2.0</text>
<line x1="221.12" y1="336.3" x2="221.12" y2="339.6" stroke="#111" stroke-width="1"/>
<text x="221.12" y="351" font-size="9.3" text-anchor="middle" fill="#1e1e1e">2.5</text>
<line x1="258.01" y1="336.3" x2="258.01" y2="339.6" stroke="#111" stroke-width="1"/>
<text x="258.01" y="351" font-size="9.3" text-anchor="middle" fill="#1e1e1e">3.0</text>
<line x1="294.89" y1="336.3" x2="294.89" y2="339.6" stroke="#111" stroke-width="1"/>
<text x="294.89" y="351" font-size="9.3" text-anchor="middle" fill="#1e1e1e">3.5</text>
<line x1="331.78" y1="336.3" x2="331.78" y2="339.6" stroke="#111" stroke-width="1"/>
<text x="331.78" y="351" font-size="9.3" text-anchor="middle" fill="#1e1e1e">4.0</text>
<line x1="36.3" y1="37.9" x2="36.3" y2="41.2" stroke="#111" stroke-width="1"/>
<text x="35.1" y="33.8" font-size="9.3" text-anchor="middle" fill="#1e1e1e">0.5</text>
<line x1="80.4" y1="37.9" x2="80.4" y2="41.2" stroke="#111" stroke-width="1"/>
<text x="79.2" y="33.8" font-size="9.3" text-anchor="middle" fill="#1e1e1e">1.0</text>
<line x1="124.5" y1="37.9" x2="124.5" y2="41.2" stroke="#111" stroke-width="1"/>
<text x="123.3" y="33.8" font-size="9.3" text-anchor="middle" fill="#1e1e1e">1.5</text>
<line x1="168.6" y1="37.9" x2="168.6" y2="41.2" stroke="#111" stroke-width="1"/>
<text x="167.4" y="33.8" font-size="9.3" text-anchor="middle" fill="#1e1e1e">2.0</text>
<line x1="212.7" y1="37.9" x2="212.7" y2="41.2" stroke="#111" stroke-width="1"/>
<text x="211.5" y="33.8" font-size="9.3" text-anchor="middle" fill="#1e1e1e">2.5</text>
<line x1="256.8" y1="37.9" x2="256.8" y2="41.2" stroke="#111" stroke-width="1"/>
<text x="255.6" y="33.8" font-size="9.3" text-anchor="middle" fill="#1e1e1e">3.0</text>
<line x1="300.9" y1="37.9" x2="300.9" y2="41.2" stroke="#111" stroke-width="1"/>
<text x="299.7" y="33.8" font-size="9.3" text-anchor="middle" fill="#1e1e1e">3.5</text>
<text x="10.1" y="18.2" font-size="11.5" text-anchor="start" fill="#111" font-weight="bold">a</text>
<text x="185.8" y="8.2" font-size="9.7" text-anchor="middle" fill="#1e1e1e">PISM-dEBM</text>
<text x="185.6" y="20.9" font-size="9.7" text-anchor="middle" fill="#1e1e1e">Convergence ΔGMT above preindustrial (°C)</text>
<text x="184.2" y="364.5" font-size="9.7" text-anchor="middle" fill="#1e1e1e">Convergence&#160;&#160;Δ<tspan font-style="italic">T</tspan><tspan font-size="6.6" dy="2.8">conv,JJA</tspan><tspan dy="-2.8"> above present (°C)</tspan></text>
<text x="12.2" y="190.5" font-size="9.7" text-anchor="middle" fill="#1e1e1e" transform="rotate(-90 12.2 190.5)">Overshoot Δ<tspan font-style="italic">T</tspan><tspan font-size="6.5" dy="2.8">max,JJA</tspan><tspan dy="-2.8"> above present by </tspan><tspan font-size="7">AD</tspan> 2100 (°C)</text>
<line x1="372.6" y1="42.0" x2="670.8" y2="42.0" stroke="#4a4a4a" stroke-width="1.1"/>
<line x1="372.6" y1="337.4" x2="670.8" y2="337.4" stroke="#1a1a1a" stroke-width="1"/>
<line x1="670.3" y1="42" x2="670.3" y2="337.9" stroke="#9a9a9a" stroke-width="1.1"/>
<line x1="372.6" y1="41.8" x2="372.6" y2="337.9" stroke="#1a1a1a" stroke-width="1.2"/>
<line x1="369.4" y1="337" x2="372" y2="337" stroke="#111" stroke-width="1"/>
<text x="366.3" y="341" font-size="9.3" text-anchor="end" fill="#1e1e1e">0</text>
<line x1="369.4" y1="294.9" x2="372" y2="294.9" stroke="#111" stroke-width="1"/>
<text x="366.3" y="298.9" font-size="9.3" text-anchor="end" fill="#1e1e1e">1</text>
<line x1="369.4" y1="252.8" x2="372" y2="252.8" stroke="#111" stroke-width="1"/>
<text x="366.3" y="256.8" font-size="9.3" text-anchor="end" fill="#1e1e1e">2</text>
<line x1="369.4" y1="210.7" x2="372" y2="210.7" stroke="#111" stroke-width="1"/>
<text x="366.3" y="214.7" font-size="9.3" text-anchor="end" fill="#1e1e1e">3</text>
<line x1="369.4" y1="168.6" x2="372" y2="168.6" stroke="#111" stroke-width="1"/>
<text x="366.3" y="172.6" font-size="9.3" text-anchor="end" fill="#1e1e1e">4</text>
<line x1="369.4" y1="126.5" x2="372" y2="126.5" stroke="#111" stroke-width="1"/>
<text x="366.3" y="130.5" font-size="9.3" text-anchor="end" fill="#1e1e1e">5</text>
<line x1="369.4" y1="84.4" x2="372" y2="84.4" stroke="#111" stroke-width="1"/>
<text x="366.3" y="88.4" font-size="9.3" text-anchor="end" fill="#1e1e1e">6</text>
<line x1="369.4" y1="42.3" x2="372" y2="42.3" stroke="#111" stroke-width="1"/>
<text x="366.3" y="46.3" font-size="9.3" text-anchor="end" fill="#1e1e1e">7</text>
<line x1="374.8" y1="337.4" x2="374.8" y2="340.6" stroke="#111" stroke-width="1"/>
<text x="374.8" y="352" font-size="9.3" text-anchor="middle" fill="#1e1e1e">0</text>
<line x1="411.65" y1="337.4" x2="411.65" y2="340.6" stroke="#111" stroke-width="1"/>
<text x="411.65" y="352" font-size="9.3" text-anchor="middle" fill="#1e1e1e">0.5</text>
<line x1="448.5" y1="337.4" x2="448.5" y2="340.6" stroke="#111" stroke-width="1"/>
<text x="448.5" y="352" font-size="9.3" text-anchor="middle" fill="#1e1e1e">1.0</text>
<line x1="485.35" y1="337.4" x2="485.35" y2="340.6" stroke="#111" stroke-width="1"/>
<text x="485.35" y="352" font-size="9.3" text-anchor="middle" fill="#1e1e1e">1.5</text>
<line x1="522.2" y1="337.4" x2="522.2" y2="340.6" stroke="#111" stroke-width="1"/>
<text x="522.2" y="352" font-size="9.3" text-anchor="middle" fill="#1e1e1e">2.0</text>
<line x1="559.05" y1="337.4" x2="559.05" y2="340.6" stroke="#111" stroke-width="1"/>
<text x="559.05" y="352" font-size="9.3" text-anchor="middle" fill="#1e1e1e">2.5</text>
<line x1="595.9" y1="337.4" x2="595.9" y2="340.6" stroke="#111" stroke-width="1"/>
<text x="595.9" y="352" font-size="9.3" text-anchor="middle" fill="#1e1e1e">3.0</text>
<line x1="632.75" y1="337.4" x2="632.75" y2="340.6" stroke="#111" stroke-width="1"/>
<text x="632.75" y="352" font-size="9.3" text-anchor="middle" fill="#1e1e1e">3.5</text>
<line x1="669.6" y1="337.4" x2="669.6" y2="340.6" stroke="#111" stroke-width="1"/>
<text x="669.6" y="352" font-size="9.3" text-anchor="middle" fill="#1e1e1e">4.0</text>
<line x1="374.8" y1="38.7" x2="374.8" y2="42" stroke="#111" stroke-width="1"/>
<text x="373.3" y="34.3" font-size="9.3" text-anchor="middle" fill="#1e1e1e">0.5</text>
<line x1="419.02" y1="38.7" x2="419.02" y2="42" stroke="#111" stroke-width="1"/>
<text x="417.52" y="34.3" font-size="9.3" text-anchor="middle" fill="#1e1e1e">1.0</text>
<line x1="463.24" y1="38.7" x2="463.24" y2="42" stroke="#111" stroke-width="1"/>
<text x="461.74" y="34.3" font-size="9.3" text-anchor="middle" fill="#1e1e1e">1.5</text>
<line x1="507.46" y1="38.7" x2="507.46" y2="42" stroke="#111" stroke-width="1"/>
<text x="505.96" y="34.3" font-size="9.3" text-anchor="middle" fill="#1e1e1e">2.0</text>
<line x1="551.68" y1="38.7" x2="551.68" y2="42" stroke="#111" stroke-width="1"/>
<text x="550.18" y="34.3" font-size="9.3" text-anchor="middle" fill="#1e1e1e">2.5</text>
<line x1="595.9" y1="38.7" x2="595.9" y2="42" stroke="#111" stroke-width="1"/>
<text x="594.4" y="34.3" font-size="9.3" text-anchor="middle" fill="#1e1e1e">3.0</text>
<line x1="640.12" y1="38.7" x2="640.12" y2="42" stroke="#111" stroke-width="1"/>
<text x="638.62" y="34.3" font-size="9.3" text-anchor="middle" fill="#1e1e1e">3.5</text>
<text x="352.4" y="19.4" font-size="11.5" text-anchor="start" fill="#111" font-weight="bold">b</text>
<text x="523.2" y="8.4" font-size="10" text-anchor="middle" fill="#1e1e1e">Yelmo-REMBO</text>
<text x="520" y="20.9" font-size="9.7" text-anchor="middle" fill="#1e1e1e">Convergence ΔGMT above preindustrial (°C)</text>
<text x="520.3" y="365.5" font-size="9.7" text-anchor="middle" fill="#1e1e1e">Convergence&#160;&#160;Δ<tspan font-style="italic">T</tspan><tspan font-size="6.6" dy="2.8">conv,JJA</tspan><tspan dy="-2.8"> above present (°C)</tspan></text>
<polygon points="679,337.6 679,55.7 686.3,41.6 693.7,55.7 693.7,337.6" fill="url(#gcb)"/>
<polygon points="679,56.2 686.3,41.6 693.7,56.2" fill="#482a7b"/>
<polygon points="679,337.6 679,55.7 686.3,41.6 693.7,55.7 693.7,337.6" fill="none" stroke="#1a1a1a" stroke-width="0.9"/>
<line x1="693.7" y1="337.6" x2="696.8" y2="337.6" stroke="#111" stroke-width="1"/>
<text x="698.6" y="340.2" font-size="9.3" text-anchor="start" fill="#1e1e1e">0</text>
<line x1="693.7" y1="299.5" x2="696.8" y2="299.5" stroke="#111" stroke-width="1"/>
<text x="698.6" y="302.1" font-size="9.3" text-anchor="start" fill="#1e1e1e">1</text>
<line x1="693.7" y1="261.4" x2="696.8" y2="261.4" stroke="#111" stroke-width="1"/>
<text x="698.6" y="264" font-size="9.3" text-anchor="start" fill="#1e1e1e">2</text>
<line x1="693.7" y1="223.3" x2="696.8" y2="223.3" stroke="#111" stroke-width="1"/>
<text x="698.6" y="225.9" font-size="9.3" text-anchor="start" fill="#1e1e1e">3</text>
<line x1="693.7" y1="185.2" x2="696.8" y2="185.2" stroke="#111" stroke-width="1"/>
<text x="698.6" y="187.8" font-size="9.3" text-anchor="start" fill="#1e1e1e">4</text>
<line x1="693.7" y1="147.1" x2="696.8" y2="147.1" stroke="#111" stroke-width="1"/>
<text x="698.6" y="149.7" font-size="9.3" text-anchor="start" fill="#1e1e1e">5</text>
<line x1="693.7" y1="109" x2="696.8" y2="109" stroke="#111" stroke-width="1"/>
<text x="698.6" y="111.6" font-size="9.3" text-anchor="start" fill="#1e1e1e">6</text>
<line x1="693.7" y1="70.9" x2="696.8" y2="70.9" stroke="#111" stroke-width="1"/>
<text x="698.6" y="73.5" font-size="9.3" text-anchor="start" fill="#1e1e1e">7</text>
<text x="716.6" y="191" font-size="9.2" text-anchor="middle" fill="#1e1e1e" transform="rotate(-90 716.6 191)">Equilibrium SLR (m)</text>
<text x="176" y="390.4" font-size="9.7" text-anchor="start" fill="#1e1e1e">Δ<tspan font-style="italic">T</tspan><tspan font-size="6.4" dy="3.0">max,JJA</tspan><tspan dy="-3.0"> (°C)</tspan></text>
<circle cx="177.1" cy="403.8" r="3.4" fill="#a9e6ee" stroke="#222" stroke-width="1.0"/>
<text x="185.5" y="407.3" font-size="10" text-anchor="start" fill="#1e1e1e">0</text>
<circle cx="177.1" cy="414.7" r="3.4" fill="#84dfe6" stroke="#222" stroke-width="1.0"/>
<text x="185.5" y="418.2" font-size="10" text-anchor="start" fill="#1e1e1e">0.5</text>
<circle cx="177.1" cy="425.3" r="3.4" fill="#62d6cf" stroke="#222" stroke-width="1.0"/>
<text x="185.5" y="428.8" font-size="10" text-anchor="start" fill="#1e1e1e">1.0</text>
<circle cx="215.3" cy="403.8" r="3.4" fill="#56d0a6" stroke="#222" stroke-width="1.0"/>
<text x="223.7" y="407.3" font-size="10" text-anchor="start" fill="#1e1e1e">1.5</text>
<circle cx="215.3" cy="414.7" r="3.4" fill="#64c67c" stroke="#222" stroke-width="1.0"/>
<text x="223.7" y="418.2" font-size="10" text-anchor="start" fill="#1e1e1e">2.0</text>
<circle cx="215.3" cy="425.3" r="3.4" fill="#78bb52" stroke="#222" stroke-width="1.0"/>
<text x="223.7" y="428.8" font-size="10" text-anchor="start" fill="#1e1e1e">2.5</text>
<circle cx="252.9" cy="403.8" r="3.4" fill="#8aa832" stroke="#222" stroke-width="1.0"/>
<text x="261.3" y="407.3" font-size="10" text-anchor="start" fill="#1e1e1e">3.0</text>
<circle cx="252.9" cy="414.7" r="3.4" fill="#988e22" stroke="#222" stroke-width="1.0"/>
<text x="261.3" y="418.2" font-size="10" text-anchor="start" fill="#1e1e1e">3.5</text>
<circle cx="252.9" cy="425.3" r="3.4" fill="#93721c" stroke="#222" stroke-width="1.0"/>
<text x="261.3" y="428.8" font-size="10" text-anchor="start" fill="#1e1e1e">4.0</text>
<circle cx="290.8" cy="403.8" r="3.4" fill="#a8761f" stroke="#222" stroke-width="1.0"/>
<text x="299.2" y="407.3" font-size="10" text-anchor="start" fill="#1e1e1e">4.5</text>
<circle cx="290.8" cy="414.7" r="3.4" fill="#ac6830" stroke="#222" stroke-width="1.0"/>
<text x="299.2" y="418.2" font-size="10" text-anchor="start" fill="#1e1e1e">5.0</text>
<circle cx="290.8" cy="425.3" r="3.4" fill="#ac573a" stroke="#222" stroke-width="1.0"/>
<text x="299.2" y="428.8" font-size="10" text-anchor="start" fill="#1e1e1e">5.5</text>
<circle cx="329" cy="403.8" r="3.4" fill="#ab4a50" stroke="#222" stroke-width="1.0"/>
<text x="337.4" y="407.3" font-size="10" text-anchor="start" fill="#1e1e1e">6.0</text>
<circle cx="329" cy="414.7" r="3.4" fill="#a63a62" stroke="#222" stroke-width="1.0"/>
<text x="337.4" y="418.2" font-size="10" text-anchor="start" fill="#1e1e1e">6.5</text>
<circle cx="329" cy="425.3" r="3.4" fill="#9c2070" stroke="#222" stroke-width="1.0"/>
<text x="337.4" y="428.8" font-size="10" text-anchor="start" fill="#1e1e1e">7.0</text>
<text x="367" y="395.5" font-size="9.6" text-anchor="start" fill="#1e1e1e">Trend 90–100 kyr (m per 10 kyr)</text>
<polygon points="369.8,401.74 367,407.06 372.6,407.06" fill="none" stroke="#111" stroke-width="1.05" stroke-linejoin="miter"/>
<text x="382" y="408" font-size="9.6" text-anchor="start" fill="#1e1e1e">&gt;0.1</text>
<polygon points="369.8,417.66 367,412.34 372.6,412.34" fill="none" stroke="#111" stroke-width="1.05" stroke-linejoin="miter"/>
<text x="382" y="418" font-size="9.6" text-anchor="start" fill="#1e1e1e">&lt;–0.1</text>
<circle cx="369.7" cy="425.2" r="2.85" fill="none" stroke="#111" stroke-width="1.05"/>
<text x="382" y="428.5" font-size="9.6" text-anchor="start" fill="#1e1e1e">None</text>
<line x1="32.5" y1="468.4" x2="330.3" y2="468.4" stroke="#333" stroke-width="1"/>
<line x1="32.5" y1="764.2" x2="330.3" y2="764.2" stroke="#777" stroke-width="1.3"/>
<line x1="32.5" y1="468.4" x2="32.5" y2="764.2" stroke="#222" stroke-width="1"/>
<line x1="330.3" y1="468.4" x2="330.3" y2="764.2" stroke="#7a7a7a" stroke-width="1.3"/>
<line x1="30.0" y1="472.3" x2="32.5" y2="472.3" stroke="#111" stroke-width="1"/>
<text x="26.5" y="475.6" font-size="9.3" text-anchor="end" fill="#1e1e1e">0</text>
<line x1="30.0" y1="510.75" x2="32.5" y2="510.75" stroke="#111" stroke-width="1"/>
<text x="26.5" y="514.05" font-size="9.3" text-anchor="end" fill="#1e1e1e">1</text>
<line x1="30.0" y1="549.2" x2="32.5" y2="549.2" stroke="#111" stroke-width="1"/>
<text x="26.5" y="552.5" font-size="9.3" text-anchor="end" fill="#1e1e1e">2</text>
<line x1="30.0" y1="587.65" x2="32.5" y2="587.65" stroke="#111" stroke-width="1"/>
<text x="26.5" y="590.95" font-size="9.3" text-anchor="end" fill="#1e1e1e">3</text>
<line x1="30.0" y1="626.1" x2="32.5" y2="626.1" stroke="#111" stroke-width="1"/>
<text x="26.5" y="629.4" font-size="9.3" text-anchor="end" fill="#1e1e1e">4</text>
<line x1="30.0" y1="664.55" x2="32.5" y2="664.55" stroke="#111" stroke-width="1"/>
<text x="26.5" y="667.85" font-size="9.3" text-anchor="end" fill="#1e1e1e">5</text>
<line x1="30.0" y1="703" x2="32.5" y2="703" stroke="#111" stroke-width="1"/>
<text x="26.5" y="706.3" font-size="9.3" text-anchor="end" fill="#1e1e1e">6</text>
<line x1="30.0" y1="741.45" x2="32.5" y2="741.45" stroke="#111" stroke-width="1"/>
<text x="26.5" y="744.75" font-size="9.3" text-anchor="end" fill="#1e1e1e">7</text>
<line x1="34.4" y1="764.2" x2="34.4" y2="766.8000000000001" stroke="#111" stroke-width="1"/>
<text x="35.2" y="776.7" font-size="9.3" text-anchor="middle" fill="#1e1e1e">0</text>
<line x1="71.1" y1="764.2" x2="71.1" y2="766.8000000000001" stroke="#111" stroke-width="1"/>
<text x="69.6" y="776.7" font-size="9.3" text-anchor="middle" fill="#1e1e1e">0.5</text>
<line x1="107.8" y1="764.2" x2="107.8" y2="766.8000000000001" stroke="#111" stroke-width="1"/>
<text x="106.3" y="776.7" font-size="9.3" text-anchor="middle" fill="#1e1e1e">1.0</text>
<line x1="144.5" y1="764.2" x2="144.5" y2="766.8000000000001" stroke="#111" stroke-width="1"/>
<text x="143" y="776.7" font-size="9.3" text-anchor="middle" fill="#1e1e1e">1.5</text>
<line x1="181.2" y1="764.2" x2="181.2" y2="766.8000000000001" stroke="#111" stroke-width="1"/>
<text x="179.7" y="776.7" font-size="9.3" text-anchor="middle" fill="#1e1e1e">2.0</text>
<line x1="217.9" y1="764.2" x2="217.9" y2="766.8000000000001" stroke="#111" stroke-width="1"/>
<text x="216.4" y="776.7" font-size="9.3" text-anchor="middle" fill="#1e1e1e">2.5</text>
<line x1="254.6" y1="764.2" x2="254.6" y2="766.8000000000001" stroke="#111" stroke-width="1"/>
<text x="253.1" y="776.7" font-size="9.3" text-anchor="middle" fill="#1e1e1e">3.0</text>
<line x1="291.3" y1="764.2" x2="291.3" y2="766.8000000000001" stroke="#111" stroke-width="1"/>
<text x="289.8" y="776.7" font-size="9.3" text-anchor="middle" fill="#1e1e1e">3.5</text>
<line x1="328" y1="764.2" x2="328" y2="766.8000000000001" stroke="#111" stroke-width="1"/>
<text x="326.5" y="776.7" font-size="9.3" text-anchor="middle" fill="#1e1e1e">4.0</text>
<line x1="34.5" y1="466.59999999999997" x2="34.5" y2="468.4" stroke="#333" stroke-width="0.9"/>
<text x="33.3" y="462.4" font-size="9.3" text-anchor="middle" fill="#1e1e1e">0.5</text>
<line x1="78.12" y1="466.59999999999997" x2="78.12" y2="468.4" stroke="#333" stroke-width="0.9"/>
<text x="76.92" y="462.4" font-size="9.3" text-anchor="middle" fill="#1e1e1e">1.0</text>
<line x1="121.74" y1="466.59999999999997" x2="121.74" y2="468.4" stroke="#333" stroke-width="0.9"/>
<text x="120.54" y="462.4" font-size="9.3" text-anchor="middle" fill="#1e1e1e">1.5</text>
<line x1="165.36" y1="466.59999999999997" x2="165.36" y2="468.4" stroke="#333" stroke-width="0.9"/>
<text x="164.16" y="462.4" font-size="9.3" text-anchor="middle" fill="#1e1e1e">2.0</text>
<line x1="208.98" y1="466.59999999999997" x2="208.98" y2="468.4" stroke="#333" stroke-width="0.9"/>
<text x="207.78" y="462.4" font-size="9.3" text-anchor="middle" fill="#1e1e1e">2.5</text>
<line x1="252.6" y1="466.59999999999997" x2="252.6" y2="468.4" stroke="#333" stroke-width="0.9"/>
<text x="251.4" y="462.4" font-size="9.3" text-anchor="middle" fill="#1e1e1e">3.0</text>
<line x1="296.22" y1="466.59999999999997" x2="296.22" y2="468.4" stroke="#333" stroke-width="0.9"/>
<text x="295.02" y="462.4" font-size="9.3" text-anchor="middle" fill="#1e1e1e">3.5</text>
<line x1="330.3" y1="757.2" x2="332.90000000000003" y2="757.2" stroke="#111" stroke-width="1"/>
<text x="335.1" y="760.5" font-size="9.3" text-anchor="start" fill="#1e1e1e">0</text>
<line x1="330.3" y1="709.4" x2="332.90000000000003" y2="709.4" stroke="#111" stroke-width="1"/>
<text x="335.1" y="712.7" font-size="9.3" text-anchor="start" fill="#1e1e1e">0.5</text>
<line x1="330.3" y1="661.6" x2="332.90000000000003" y2="661.6" stroke="#111" stroke-width="1"/>
<text x="335.1" y="664.9" font-size="9.3" text-anchor="start" fill="#1e1e1e">1.0</text>
<line x1="330.3" y1="613.8" x2="332.90000000000003" y2="613.8" stroke="#111" stroke-width="1"/>
<text x="335.1" y="617.1" font-size="9.3" text-anchor="start" fill="#1e1e1e">1.5</text>
<line x1="330.3" y1="566" x2="332.90000000000003" y2="566" stroke="#111" stroke-width="1"/>
<text x="335.1" y="569.3" font-size="9.3" text-anchor="start" fill="#1e1e1e">2.0</text>
<line x1="330.3" y1="518.2" x2="332.90000000000003" y2="518.2" stroke="#111" stroke-width="1"/>
<text x="335.1" y="521.5" font-size="9.3" text-anchor="start" fill="#1e1e1e">2.5</text>
<line x1="330.3" y1="470.4" x2="332.90000000000003" y2="470.4" stroke="#111" stroke-width="1"/>
<text x="335.1" y="473.7" font-size="9.3" text-anchor="start" fill="#1e1e1e">3.0</text>
<text x="-0.2" y="445.9" font-size="12" text-anchor="start" fill="#111" font-weight="bold">c</text>
<text x="185.8" y="447.5" font-size="9.7" text-anchor="middle" fill="#1e1e1e">Convergence ΔGMT above preindustrial (°C)</text>
<text x="180.5" y="790.6" font-size="9.7" text-anchor="middle" fill="#1e1e1e">Convergence&#160;&#160;Δ<tspan font-style="italic">T</tspan><tspan font-size="6.6" dy="2.8">conv,JJA</tspan><tspan dy="-2.8"> above present (°C)</tspan></text>
<text x="12.4" y="616.4" font-size="9.4" text-anchor="middle" fill="#1e1e1e" transform="rotate(-90 12.4 616.4)">Equilibrium SLR (m)</text>
<line x1="372.8" y1="468.1" x2="669.4" y2="468.1" stroke="#333" stroke-width="1"/>
<line x1="372.8" y1="763.8" x2="669.4" y2="763.8" stroke="#777" stroke-width="1.3"/>
<line x1="372.8" y1="468.1" x2="372.8" y2="763.8" stroke="#222" stroke-width="1"/>
<line x1="669.4" y1="468.1" x2="669.4" y2="763.8" stroke="#7a7a7a" stroke-width="1.3"/>
<line x1="370.3" y1="471.9" x2="372.8" y2="471.9" stroke="#111" stroke-width="1"/>
<text x="366.8" y="475.2" font-size="9.3" text-anchor="end" fill="#1e1e1e">0</text>
<line x1="370.3" y1="510.35" x2="372.8" y2="510.35" stroke="#111" stroke-width="1"/>
<text x="366.8" y="513.65" font-size="9.3" text-anchor="end" fill="#1e1e1e">1</text>
<line x1="370.3" y1="548.8" x2="372.8" y2="548.8" stroke="#111" stroke-width="1"/>
<text x="366.8" y="552.1" font-size="9.3" text-anchor="end" fill="#1e1e1e">2</text>
<line x1="370.3" y1="587.25" x2="372.8" y2="587.25" stroke="#111" stroke-width="1"/>
<text x="366.8" y="590.55" font-size="9.3" text-anchor="end" fill="#1e1e1e">3</text>
<line x1="370.3" y1="625.7" x2="372.8" y2="625.7" stroke="#111" stroke-width="1"/>
<text x="366.8" y="629" font-size="9.3" text-anchor="end" fill="#1e1e1e">4</text>
<line x1="370.3" y1="664.15" x2="372.8" y2="664.15" stroke="#111" stroke-width="1"/>
<text x="366.8" y="667.45" font-size="9.3" text-anchor="end" fill="#1e1e1e">5</text>
<line x1="370.3" y1="702.6" x2="372.8" y2="702.6" stroke="#111" stroke-width="1"/>
<text x="366.8" y="705.9" font-size="9.3" text-anchor="end" fill="#1e1e1e">6</text>
<line x1="370.3" y1="741.05" x2="372.8" y2="741.05" stroke="#111" stroke-width="1"/>
<text x="366.8" y="744.35" font-size="9.3" text-anchor="end" fill="#1e1e1e">7</text>
<line x1="374.6" y1="763.8" x2="374.6" y2="766.4" stroke="#111" stroke-width="1"/>
<text x="375.4" y="776.7" font-size="9.3" text-anchor="middle" fill="#1e1e1e">0</text>
<line x1="411.25" y1="763.8" x2="411.25" y2="766.4" stroke="#111" stroke-width="1"/>
<text x="409.75" y="776.7" font-size="9.3" text-anchor="middle" fill="#1e1e1e">0.5</text>
<line x1="447.9" y1="763.8" x2="447.9" y2="766.4" stroke="#111" stroke-width="1"/>
<text x="446.4" y="776.7" font-size="9.3" text-anchor="middle" fill="#1e1e1e">1.0</text>
<line x1="484.55" y1="763.8" x2="484.55" y2="766.4" stroke="#111" stroke-width="1"/>
<text x="483.05" y="776.7" font-size="9.3" text-anchor="middle" fill="#1e1e1e">1.5</text>
<line x1="521.2" y1="763.8" x2="521.2" y2="766.4" stroke="#111" stroke-width="1"/>
<text x="519.7" y="776.7" font-size="9.3" text-anchor="middle" fill="#1e1e1e">2.0</text>
<line x1="557.85" y1="763.8" x2="557.85" y2="766.4" stroke="#111" stroke-width="1"/>
<text x="556.35" y="776.7" font-size="9.3" text-anchor="middle" fill="#1e1e1e">2.5</text>
<line x1="594.5" y1="763.8" x2="594.5" y2="766.4" stroke="#111" stroke-width="1"/>
<text x="593" y="776.7" font-size="9.3" text-anchor="middle" fill="#1e1e1e">3.0</text>
<line x1="631.15" y1="763.8" x2="631.15" y2="766.4" stroke="#111" stroke-width="1"/>
<text x="629.65" y="776.7" font-size="9.3" text-anchor="middle" fill="#1e1e1e">3.5</text>
<line x1="667.8" y1="763.8" x2="667.8" y2="766.4" stroke="#111" stroke-width="1"/>
<text x="666.3" y="776.7" font-size="9.3" text-anchor="middle" fill="#1e1e1e">4.0</text>
<line x1="373.5" y1="466.3" x2="373.5" y2="468.1" stroke="#333" stroke-width="0.9"/>
<text x="372.3" y="462.4" font-size="9.3" text-anchor="middle" fill="#1e1e1e">0.5</text>
<line x1="417" y1="466.3" x2="417" y2="468.1" stroke="#333" stroke-width="0.9"/>
<text x="415.8" y="462.4" font-size="9.3" text-anchor="middle" fill="#1e1e1e">1.0</text>
<line x1="460.5" y1="466.3" x2="460.5" y2="468.1" stroke="#333" stroke-width="0.9"/>
<text x="459.3" y="462.4" font-size="9.3" text-anchor="middle" fill="#1e1e1e">1.5</text>
<line x1="504" y1="466.3" x2="504" y2="468.1" stroke="#333" stroke-width="0.9"/>
<text x="502.8" y="462.4" font-size="9.3" text-anchor="middle" fill="#1e1e1e">2.0</text>
<line x1="547.5" y1="466.3" x2="547.5" y2="468.1" stroke="#333" stroke-width="0.9"/>
<text x="546.3" y="462.4" font-size="9.3" text-anchor="middle" fill="#1e1e1e">2.5</text>
<line x1="591" y1="466.3" x2="591" y2="468.1" stroke="#333" stroke-width="0.9"/>
<text x="589.8" y="462.4" font-size="9.3" text-anchor="middle" fill="#1e1e1e">3.0</text>
<line x1="634.5" y1="466.3" x2="634.5" y2="468.1" stroke="#333" stroke-width="0.9"/>
<text x="633.3" y="462.4" font-size="9.3" text-anchor="middle" fill="#1e1e1e">3.5</text>
<line x1="669.4" y1="757.2" x2="672.0" y2="757.2" stroke="#111" stroke-width="1"/>
<text x="674.2" y="760.5" font-size="9.3" text-anchor="start" fill="#1e1e1e">0</text>
<line x1="669.4" y1="709.53" x2="672.0" y2="709.53" stroke="#111" stroke-width="1"/>
<text x="674.2" y="712.83" font-size="9.3" text-anchor="start" fill="#1e1e1e">0.5</text>
<line x1="669.4" y1="661.85" x2="672.0" y2="661.85" stroke="#111" stroke-width="1"/>
<text x="674.2" y="665.15" font-size="9.3" text-anchor="start" fill="#1e1e1e">1.0</text>
<line x1="669.4" y1="614.18" x2="672.0" y2="614.18" stroke="#111" stroke-width="1"/>
<text x="674.2" y="617.48" font-size="9.3" text-anchor="start" fill="#1e1e1e">1.5</text>
<line x1="669.4" y1="566.5" x2="672.0" y2="566.5" stroke="#111" stroke-width="1"/>
<text x="674.2" y="569.8" font-size="9.3" text-anchor="start" fill="#1e1e1e">2.0</text>
<line x1="669.4" y1="518.83" x2="672.0" y2="518.83" stroke="#111" stroke-width="1"/>
<text x="674.2" y="522.12" font-size="9.3" text-anchor="start" fill="#1e1e1e">2.5</text>
<line x1="669.4" y1="471.15" x2="672.0" y2="471.15" stroke="#111" stroke-width="1"/>
<text x="674.2" y="474.45" font-size="9.3" text-anchor="start" fill="#1e1e1e">3.0</text>
<text x="352.6" y="445.9" font-size="11.5" text-anchor="start" fill="#111" font-weight="bold">d</text>
<text x="520.2" y="446.8" font-size="9.7" text-anchor="middle" fill="#1e1e1e">Convergence ΔGMT above preindustrial (°C)</text>
<text x="520.5" y="790.6" font-size="9.7" text-anchor="middle" fill="#1e1e1e">Convergence&#160;&#160;Δ<tspan font-style="italic">T</tspan><tspan font-size="6.6" dy="2.8">conv,JJA</tspan><tspan dy="-2.8"> above present (°C)</tspan></text>
<text x="707.3" y="613.5" font-size="9.3" text-anchor="middle" fill="#1e1e1e" transform="rotate(-90 707.3 613.5)">Equilibrium ice volume (×10<tspan font-size="6.2" dy="-3.2">6</tspan><tspan dy="3.2"> km</tspan><tspan font-size="6.2" dy="-3.2">2</tspan><tspan dy="3.2">)</tspan></text>
<polyline points="34.8,474.5 70.9,479.6 78.2,481 107.9,497.2 121.7,505.5 144.8,527.8 165.3,527.8 178,532.8 181,534.5 188.2,545 191.5,560 207.5,709.8 217.8,713 236.1,720.3 252.8,731.7 291,741.1 327.9,746.3" fill="none" stroke="#111" stroke-width="1.1" stroke-linejoin="round"/>
<defs><clipPath id="cpc"><rect x="32.5" y="468.4" width="297.8" height="295.8"/></clipPath><clipPath id="cpd"><rect x="372.6" y="468.1" width="296.8" height="295.7"/></clipPath></defs>
<g clip-path="url(#cpc)">
<circle cx="35" cy="477.5" r="3.45" fill="#1a1a1a" stroke="#1a1a1a" stroke-width="0.9"/>
<circle cx="35" cy="474.5" r="3.45" fill="#a02c78" stroke="#1a1a1a" stroke-width="0.9"/>
<circle cx="70.9" cy="479.6" r="3.45" fill="#000" stroke="#1a1a1a" stroke-width="0.9"/>
<circle cx="78.2" cy="489.3" r="3.45" fill="#2c3a1e" stroke="#1a1a1a" stroke-width="0.9"/>
<circle cx="78.2" cy="491.5" r="3.45" fill="#4a2a2a" stroke="#1a1a1a" stroke-width="0.9"/>
<circle cx="78.2" cy="494.5" r="3.45" fill="#a03068" stroke="#1a1a1a" stroke-width="0.9"/>
<circle cx="78.2" cy="480.7" r="3.45" fill="#a02c78" stroke="#1a1a1a" stroke-width="0.9"/>
<circle cx="107.9" cy="497.2" r="3.45" fill="#000" stroke="#1a1a1a" stroke-width="0.9"/>
<circle cx="121.7" cy="507.5" r="3.45" fill="#7a3030" stroke="#1a1a1a" stroke-width="0.9"/>
<circle cx="121.7" cy="499.5" r="3.45" fill="#a03a68" stroke="#1a1a1a" stroke-width="0.9"/>
<circle cx="121.7" cy="505.5" r="3.45" fill="#a02c78" stroke="#1a1a1a" stroke-width="0.9"/>
<circle cx="144.8" cy="527.8" r="3.45" fill="#000" stroke="#1a1a1a" stroke-width="0.9"/>
<polygon points="165.3,518.97 161.8,525.62 168.8,525.62" fill="#3a6a30" stroke="#1a1a1a" stroke-width="0.9" stroke-linejoin="miter"/>
<polygon points="165.3,520.17 161.8,526.83 168.8,526.83" fill="#a02c78" stroke="#1a1a1a" stroke-width="0.9" stroke-linejoin="miter"/>
<polygon points="165.3,525.67 161.8,532.33 168.8,532.33" fill="#a02c78" stroke="#1a1a1a" stroke-width="0.9" stroke-linejoin="miter"/>
<circle cx="181" cy="531.5" r="3.45" fill="#3a3a20" stroke="#1a1a1a" stroke-width="0.9"/>
<circle cx="181" cy="538.5" r="3.45" fill="#b06a30" stroke="#1a1a1a" stroke-width="0.9"/>
<circle cx="181" cy="534.2" r="3.45" fill="#a02c78" stroke="#1a1a1a" stroke-width="0.9"/>
<polygon points="188.2,538.17 184.7,544.83 191.7,544.83" fill="#7a2838" stroke="#1a1a1a" stroke-width="0.9" stroke-linejoin="miter"/>
<polygon points="188.2,542.67 184.7,549.33 191.7,549.33" fill="#a02c78" stroke="#1a1a1a" stroke-width="0.9" stroke-linejoin="miter"/>
<circle cx="188.2" cy="553" r="3.45" fill="#3a5a2a" stroke="#1a1a1a" stroke-width="0.9"/>
<circle cx="188.2" cy="551.5" r="3.45" fill="#a02c78" stroke="#1a1a1a" stroke-width="0.9"/>
<polygon points="196,538.17 192.5,544.83 199.5,544.83" fill="#58c8a8" stroke="#1a1a1a" stroke-width="0.9" stroke-linejoin="miter"/>
<polygon points="196,542.17 192.5,548.83 199.5,548.83" fill="#c07a30" stroke="#1a1a1a" stroke-width="0.9" stroke-linejoin="miter"/>
<polygon points="196,548.17 192.5,554.83 199.5,554.83" fill="#b09020" stroke="#1a1a1a" stroke-width="0.9" stroke-linejoin="miter"/>
<polygon points="196,552.17 192.5,558.83 199.5,558.83" fill="#a02c78" stroke="#1a1a1a" stroke-width="0.9" stroke-linejoin="miter"/>
<polygon points="196,558.67 192.5,565.33 199.5,565.33" fill="#a02c78" stroke="#1a1a1a" stroke-width="0.9" stroke-linejoin="miter"/>
<polygon points="195.8,710.03 192.3,703.38 199.3,703.38" fill="#86e0ea" stroke="#1a1a1a" stroke-width="0.9" stroke-linejoin="miter"/>
<circle cx="195.8" cy="716.7" r="3.45" fill="#8cc040" stroke="#1a1a1a" stroke-width="0.9"/>
<polygon points="203.4,709.83 199.9,703.17 206.9,703.17" fill="#6a2a2a" stroke="#1a1a1a" stroke-width="0.9" stroke-linejoin="miter"/>
<polygon points="203.4,712.53 199.9,705.88 206.9,705.88" fill="#a02c78" stroke="#1a1a1a" stroke-width="0.9" stroke-linejoin="miter"/>
<circle cx="209.4" cy="720.8" r="3.45" fill="#6a3a20" stroke="#1a1a1a" stroke-width="0.9"/>
<circle cx="209.4" cy="718" r="3.45" fill="#a85a3a" stroke="#1a1a1a" stroke-width="0.9"/>
<polygon points="209.4,711.17 205.9,717.83 212.9,717.83" fill="#a02c78" stroke="#1a1a1a" stroke-width="0.9" stroke-linejoin="miter"/>
<circle cx="217.8" cy="713" r="3.45" fill="#000" stroke="#1a1a1a" stroke-width="0.9"/>
<circle cx="252.8" cy="728.8" r="3.45" fill="#2c4a2a" stroke="#1a1a1a" stroke-width="0.9"/>
<circle cx="252.8" cy="734.6" r="3.45" fill="#a86a30" stroke="#1a1a1a" stroke-width="0.9"/>
<circle cx="252.8" cy="731.7" r="3.45" fill="#a02c78" stroke="#1a1a1a" stroke-width="0.9"/>
<circle cx="291" cy="741.1" r="3.45" fill="#000" stroke="#1a1a1a" stroke-width="0.9"/>
<circle cx="296.6" cy="741.1" r="3.45" fill="#a02c78" stroke="#1a1a1a" stroke-width="0.9"/>
<circle cx="327.9" cy="746.3" r="3.45" fill="#000" stroke="#1a1a1a" stroke-width="0.9"/>
</g>
<polyline points="375.3,475.9 411.7,478 447.3,485.3 455.4,488 462.6,489 470.2,493 477.5,500 481.6,590 484.3,649.8 484.8,660.7 517,699.9 521.3,705 558.1,718 594.6,725 667.8,743.1" fill="none" stroke="#111" stroke-width="1.1" stroke-linejoin="round"/>
<g clip-path="url(#cpd)">
<circle cx="375.3" cy="475.9" r="3.45" fill="#a02c78" stroke="#1a1a1a" stroke-width="0.9"/>
<circle cx="411.7" cy="477.2" r="3.45" fill="#000" stroke="#1a1a1a" stroke-width="0.9"/>
<circle cx="411.7" cy="479.9" r="3.45" fill="#e2d6ea" stroke="#1a1a1a" stroke-width="0.9"/>
<circle cx="447.3" cy="483.6" r="3.45" fill="#a89020" stroke="#1a1a1a" stroke-width="0.9"/>
<circle cx="447.3" cy="486.8" r="3.45" fill="#a02c78" stroke="#1a1a1a" stroke-width="0.9"/>
<circle cx="455.4" cy="485.5" r="3.45" fill="#2a1a1a" stroke="#1a1a1a" stroke-width="0.9"/>
<circle cx="455.4" cy="488.5" r="3.45" fill="#a02c78" stroke="#1a1a1a" stroke-width="0.9"/>
<circle cx="462.6" cy="486.6" r="3.45" fill="#000" stroke="#1a1a1a" stroke-width="0.9"/>
<circle cx="462.6" cy="490.5" r="3.45" fill="#a02c78" stroke="#1a1a1a" stroke-width="0.9"/>
<circle cx="470.2" cy="490.8" r="3.45" fill="#a02c78" stroke="#1a1a1a" stroke-width="0.9"/>
<circle cx="470.2" cy="497.4" r="3.45" fill="#b05048" stroke="#1a1a1a" stroke-width="0.9"/>
<circle cx="477.5" cy="496.2" r="3.45" fill="#a89020" stroke="#1a1a1a" stroke-width="0.9"/>
<circle cx="477.5" cy="501.8" r="3.45" fill="#a02c78" stroke="#1a1a1a" stroke-width="0.9"/>
<polygon points="485,594.73 481.5,588.07 488.5,588.07" fill="#a89020" stroke="#1a1a1a" stroke-width="0.9" stroke-linejoin="miter"/>
<polygon points="485,653.83 481.5,647.17 488.5,647.17" fill="#40c8a0" stroke="#1a1a1a" stroke-width="0.9" stroke-linejoin="miter"/>
<polygon points="485,656.83 481.5,650.17 488.5,650.17" fill="#80c840" stroke="#1a1a1a" stroke-width="0.9" stroke-linejoin="miter"/>
<circle cx="484.8" cy="660.7" r="3.5" fill="#000" stroke="#1a1a1a" stroke-width="0.9"/>
<polygon points="484.8,676.73 481.3,670.07 488.3,670.07" fill="#78c850" stroke="#1a1a1a" stroke-width="0.9" stroke-linejoin="miter"/>
<polygon points="484.8,683.83 481.3,677.17 488.3,677.17" fill="#6a2030" stroke="#1a1a1a" stroke-width="0.9" stroke-linejoin="miter"/>
<polygon points="484.8,685.83 481.3,679.17 488.3,679.17" fill="#a02c78" stroke="#1a1a1a" stroke-width="0.9" stroke-linejoin="miter"/>
<polygon points="484.8,690.83 481.3,684.17 488.3,684.17" fill="#48c868" stroke="#1a1a1a" stroke-width="0.9" stroke-linejoin="miter"/>
<polygon points="484.8,693.83 481.3,687.17 488.3,687.17" fill="#28a890" stroke="#1a1a1a" stroke-width="0.9" stroke-linejoin="miter"/>
<circle cx="521.6" cy="704.2" r="3.45" fill="#a89020" stroke="#1a1a1a" stroke-width="0.9"/>
<circle cx="521.6" cy="708" r="3.45" fill="#4a3020" stroke="#1a1a1a" stroke-width="0.9"/>
<circle cx="521.6" cy="711.3" r="3.45" fill="#a02c78" stroke="#1a1a1a" stroke-width="0.9"/>
<circle cx="558" cy="712.5" r="3.45" fill="#90b840" stroke="#1a1a1a" stroke-width="0.9"/>
<circle cx="558" cy="719" r="3.45" fill="#000" stroke="#1a1a1a" stroke-width="0.9"/>
<circle cx="558" cy="716" r="3.45" fill="#a02c78" stroke="#1a1a1a" stroke-width="0.9"/>
<circle cx="594.6" cy="722.5" r="3.45" fill="#b04040" stroke="#1a1a1a" stroke-width="0.9"/>
<circle cx="594.6" cy="725.8" r="3.45" fill="#a02c78" stroke="#1a1a1a" stroke-width="0.9"/>
<circle cx="668.3" cy="743.1" r="3.45" fill="#a02c78" stroke="#1a1a1a" stroke-width="0.9"/>
</g>
</svg></body></html>
